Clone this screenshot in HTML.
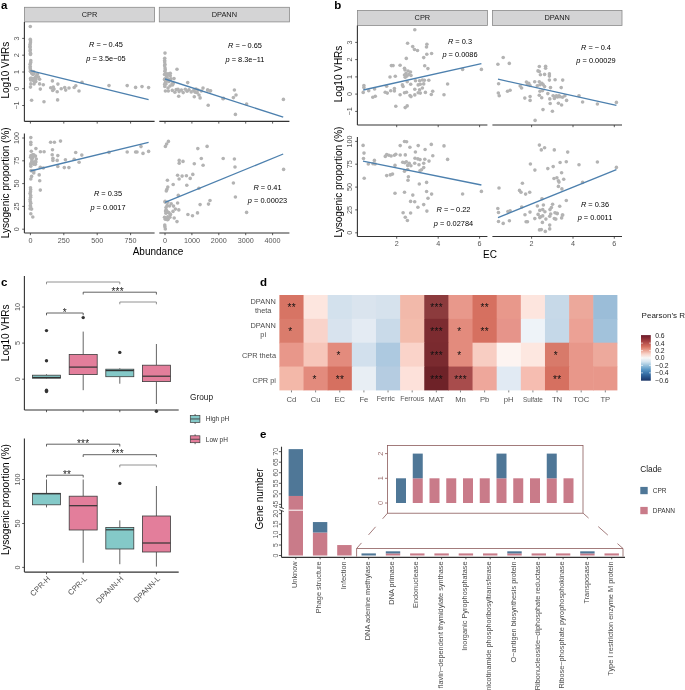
<!DOCTYPE html>
<html><head><meta charset="utf-8"><style>
html,body{margin:0;padding:0;background:#fff;overflow:hidden;}
svg{display:block;font-family:"Liberation Sans", sans-serif;will-change:transform;}
</style></head><body>
<svg width="685" height="690" viewBox="0 0 685 690">
<rect width="685" height="690" fill="#fff"/>
<text x="1" y="8.9" font-size="11.5" fill="#000" font-weight="bold">a</text>
<rect x="24.4" y="7.3" width="130.2" height="14.6" fill="#d4d4d5" stroke="#8a8a8a" stroke-width="0.8"/>
<text x="89.5" y="16.96" font-size="7.4" fill="#1a1a1a" text-anchor="middle">CPR</text>
<rect x="159.3" y="7.3" width="130.1" height="14.6" fill="#d4d4d5" stroke="#8a8a8a" stroke-width="0.8"/>
<text x="224.35" y="16.96" font-size="7.4" fill="#1a1a1a" text-anchor="middle">DPANN</text>
<line x1="24.4" y1="21.9" x2="24.4" y2="121.4" stroke="#333333" stroke-width="1.1"/>
<line x1="24.4" y1="121.4" x2="154.6" y2="121.4" stroke="#333333" stroke-width="1.1"/>
<line x1="159.3" y1="121.4" x2="289.4" y2="121.4" stroke="#333333" stroke-width="1.1"/>
<line x1="24.4" y1="133.6" x2="24.4" y2="233" stroke="#333333" stroke-width="1.1"/>
<line x1="24.4" y1="233" x2="154.6" y2="233" stroke="#333333" stroke-width="1.1"/>
<line x1="159.3" y1="233" x2="289.4" y2="233" stroke="#333333" stroke-width="1.1"/>
<line x1="22.2" y1="38.4" x2="24.4" y2="38.4" stroke="#333333" stroke-width="0.8"/>
<text x="16.7" y="38.4" font-size="7.2" fill="#555555" text-anchor="middle" transform="rotate(-90 16.7 38.4)" dominant-baseline="central">3</text>
<line x1="22.2" y1="55.2" x2="24.4" y2="55.2" stroke="#333333" stroke-width="0.8"/>
<text x="16.7" y="55.2" font-size="7.2" fill="#555555" text-anchor="middle" transform="rotate(-90 16.7 55.2)" dominant-baseline="central">2</text>
<line x1="22.2" y1="72" x2="24.4" y2="72" stroke="#333333" stroke-width="0.8"/>
<text x="16.7" y="72" font-size="7.2" fill="#555555" text-anchor="middle" transform="rotate(-90 16.7 72)" dominant-baseline="central">1</text>
<line x1="22.2" y1="88.7" x2="24.4" y2="88.7" stroke="#333333" stroke-width="0.8"/>
<text x="16.7" y="88.7" font-size="7.2" fill="#555555" text-anchor="middle" transform="rotate(-90 16.7 88.7)" dominant-baseline="central">0</text>
<line x1="22.2" y1="105.5" x2="24.4" y2="105.5" stroke="#333333" stroke-width="0.8"/>
<text x="16.7" y="105.5" font-size="7.2" fill="#555555" text-anchor="middle" transform="rotate(-90 16.7 105.5)" dominant-baseline="central">−1</text>
<line x1="22.2" y1="138" x2="24.4" y2="138" stroke="#333333" stroke-width="0.8"/>
<text x="16.7" y="138" font-size="7.2" fill="#555555" text-anchor="middle" transform="rotate(-90 16.7 138)" dominant-baseline="central">100</text>
<line x1="22.2" y1="160.8" x2="24.4" y2="160.8" stroke="#333333" stroke-width="0.8"/>
<text x="16.7" y="160.8" font-size="7.2" fill="#555555" text-anchor="middle" transform="rotate(-90 16.7 160.8)" dominant-baseline="central">75</text>
<line x1="22.2" y1="183.6" x2="24.4" y2="183.6" stroke="#333333" stroke-width="0.8"/>
<text x="16.7" y="183.6" font-size="7.2" fill="#555555" text-anchor="middle" transform="rotate(-90 16.7 183.6)" dominant-baseline="central">50</text>
<line x1="22.2" y1="206.4" x2="24.4" y2="206.4" stroke="#333333" stroke-width="0.8"/>
<text x="16.7" y="206.4" font-size="7.2" fill="#555555" text-anchor="middle" transform="rotate(-90 16.7 206.4)" dominant-baseline="central">25</text>
<line x1="22.2" y1="229.2" x2="24.4" y2="229.2" stroke="#333333" stroke-width="0.8"/>
<text x="16.7" y="229.2" font-size="7.2" fill="#555555" text-anchor="middle" transform="rotate(-90 16.7 229.2)" dominant-baseline="central">0</text>
<line x1="30.4" y1="121.4" x2="30.4" y2="123.6" stroke="#333333" stroke-width="0.8"/>
<line x1="63.8" y1="121.4" x2="63.8" y2="123.6" stroke="#333333" stroke-width="0.8"/>
<line x1="97.2" y1="121.4" x2="97.2" y2="123.6" stroke="#333333" stroke-width="0.8"/>
<line x1="130.6" y1="121.4" x2="130.6" y2="123.6" stroke="#333333" stroke-width="0.8"/>
<line x1="165" y1="121.4" x2="165" y2="123.6" stroke="#333333" stroke-width="0.8"/>
<line x1="191.9" y1="121.4" x2="191.9" y2="123.6" stroke="#333333" stroke-width="0.8"/>
<line x1="218.8" y1="121.4" x2="218.8" y2="123.6" stroke="#333333" stroke-width="0.8"/>
<line x1="245.7" y1="121.4" x2="245.7" y2="123.6" stroke="#333333" stroke-width="0.8"/>
<line x1="272.6" y1="121.4" x2="272.6" y2="123.6" stroke="#333333" stroke-width="0.8"/>
<line x1="30.4" y1="233" x2="30.4" y2="235.2" stroke="#333333" stroke-width="0.8"/>
<text x="30.4" y="242.79" font-size="7.2" fill="#555555" text-anchor="middle">0</text>
<line x1="63.8" y1="233" x2="63.8" y2="235.2" stroke="#333333" stroke-width="0.8"/>
<text x="63.8" y="242.79" font-size="7.2" fill="#555555" text-anchor="middle">250</text>
<line x1="97.2" y1="233" x2="97.2" y2="235.2" stroke="#333333" stroke-width="0.8"/>
<text x="97.2" y="242.79" font-size="7.2" fill="#555555" text-anchor="middle">500</text>
<line x1="130.6" y1="233" x2="130.6" y2="235.2" stroke="#333333" stroke-width="0.8"/>
<text x="130.6" y="242.79" font-size="7.2" fill="#555555" text-anchor="middle">750</text>
<line x1="165" y1="233" x2="165" y2="235.2" stroke="#333333" stroke-width="0.8"/>
<text x="165" y="242.79" font-size="7.2" fill="#555555" text-anchor="middle">0</text>
<line x1="191.9" y1="233" x2="191.9" y2="235.2" stroke="#333333" stroke-width="0.8"/>
<text x="191.9" y="242.79" font-size="7.2" fill="#555555" text-anchor="middle">1000</text>
<line x1="218.8" y1="233" x2="218.8" y2="235.2" stroke="#333333" stroke-width="0.8"/>
<text x="218.8" y="242.79" font-size="7.2" fill="#555555" text-anchor="middle">2000</text>
<line x1="245.7" y1="233" x2="245.7" y2="235.2" stroke="#333333" stroke-width="0.8"/>
<text x="245.7" y="242.79" font-size="7.2" fill="#555555" text-anchor="middle">3000</text>
<line x1="272.6" y1="233" x2="272.6" y2="235.2" stroke="#333333" stroke-width="0.8"/>
<text x="272.6" y="242.79" font-size="7.2" fill="#555555" text-anchor="middle">4000</text>
<text x="9" y="70.2" font-size="10" fill="#000" text-anchor="middle" transform="rotate(-90 9 70.2)">Log10 VHRs</text>
<text x="9" y="182.8" font-size="10" fill="#000" text-anchor="middle" transform="rotate(-90 9 182.8)">Lysogenic proportion (%)</text>
<text x="158" y="254.8" font-size="10" fill="#000" text-anchor="middle">Abundance</text>
<circle cx="30.3" cy="26.5" r="1.8" fill="#b3b3b3"/>
<circle cx="30.26" cy="39.32" r="1.8" fill="#b3b3b3"/>
<circle cx="30.52" cy="40.91" r="1.8" fill="#b3b3b3"/>
<circle cx="30.43" cy="42.8" r="1.8" fill="#b3b3b3"/>
<circle cx="30.05" cy="44.57" r="1.8" fill="#b3b3b3"/>
<circle cx="30.03" cy="46.17" r="1.8" fill="#b3b3b3"/>
<circle cx="30.06" cy="47.55" r="1.8" fill="#b3b3b3"/>
<circle cx="30.34" cy="49.79" r="1.8" fill="#b3b3b3"/>
<circle cx="30.1" cy="50.97" r="1.8" fill="#b3b3b3"/>
<circle cx="30.5" cy="53.2" r="1.8" fill="#b3b3b3"/>
<circle cx="30.46" cy="54.42" r="1.8" fill="#b3b3b3"/>
<circle cx="30.78" cy="60.64" r="1.8" fill="#b3b3b3"/>
<circle cx="30.69" cy="62.58" r="1.8" fill="#b3b3b3"/>
<circle cx="30.12" cy="64.19" r="1.8" fill="#b3b3b3"/>
<circle cx="30.25" cy="66.5" r="1.8" fill="#b3b3b3"/>
<circle cx="30.14" cy="68.07" r="1.8" fill="#b3b3b3"/>
<circle cx="30.51" cy="69.65" r="1.8" fill="#b3b3b3"/>
<circle cx="30.44" cy="71.15" r="1.8" fill="#b3b3b3"/>
<circle cx="30.77" cy="71.43" r="1.8" fill="#b3b3b3"/>
<circle cx="33.56" cy="72.42" r="1.8" fill="#b3b3b3"/>
<circle cx="31.91" cy="73.14" r="1.8" fill="#b3b3b3"/>
<circle cx="32.54" cy="71.85" r="1.8" fill="#b3b3b3"/>
<circle cx="34.07" cy="73.65" r="1.8" fill="#b3b3b3"/>
<circle cx="31.6" cy="73.08" r="1.8" fill="#b3b3b3"/>
<circle cx="32.86" cy="74.44" r="1.8" fill="#b3b3b3"/>
<circle cx="33.78" cy="71.8" r="1.8" fill="#b3b3b3"/>
<circle cx="36.68" cy="75.83" r="1.8" fill="#b3b3b3"/>
<circle cx="33.13" cy="80.3" r="1.8" fill="#b3b3b3"/>
<circle cx="31.46" cy="78.42" r="1.8" fill="#b3b3b3"/>
<circle cx="30.75" cy="79.68" r="1.8" fill="#b3b3b3"/>
<circle cx="35.32" cy="79.01" r="1.8" fill="#b3b3b3"/>
<circle cx="36.02" cy="77.2" r="1.8" fill="#b3b3b3"/>
<circle cx="34.88" cy="79.16" r="1.8" fill="#b3b3b3"/>
<circle cx="34.15" cy="78.19" r="1.8" fill="#b3b3b3"/>
<circle cx="35.79" cy="81.61" r="1.8" fill="#b3b3b3"/>
<circle cx="33.49" cy="79.65" r="1.8" fill="#b3b3b3"/>
<circle cx="30.88" cy="79.91" r="1.8" fill="#b3b3b3"/>
<circle cx="34.58" cy="81.95" r="1.8" fill="#b3b3b3"/>
<circle cx="35.68" cy="76.99" r="1.8" fill="#b3b3b3"/>
<circle cx="32.93" cy="79.68" r="1.8" fill="#b3b3b3"/>
<circle cx="30.64" cy="78.23" r="1.8" fill="#b3b3b3"/>
<circle cx="39.6" cy="79.3" r="1.8" fill="#b3b3b3"/>
<circle cx="39.6" cy="83.9" r="1.8" fill="#b3b3b3"/>
<circle cx="43.3" cy="84.8" r="1.8" fill="#b3b3b3"/>
<circle cx="40.3" cy="89.1" r="1.8" fill="#b3b3b3"/>
<circle cx="30.8" cy="83.9" r="1.8" fill="#b3b3b3"/>
<circle cx="30.5" cy="87.1" r="1.8" fill="#b3b3b3"/>
<circle cx="52.4" cy="80.9" r="1.8" fill="#b3b3b3"/>
<circle cx="57.9" cy="84.1" r="1.8" fill="#b3b3b3"/>
<circle cx="50.7" cy="87.8" r="1.8" fill="#b3b3b3"/>
<circle cx="53.3" cy="87.1" r="1.8" fill="#b3b3b3"/>
<circle cx="52.7" cy="90.4" r="1.8" fill="#b3b3b3"/>
<circle cx="54" cy="89.1" r="1.8" fill="#b3b3b3"/>
<circle cx="57.2" cy="91.7" r="1.8" fill="#b3b3b3"/>
<circle cx="61.2" cy="88.8" r="1.8" fill="#b3b3b3"/>
<circle cx="64.7" cy="87.5" r="1.8" fill="#b3b3b3"/>
<circle cx="65.7" cy="90.1" r="1.8" fill="#b3b3b3"/>
<circle cx="69" cy="88" r="1.8" fill="#b3b3b3"/>
<circle cx="74.2" cy="87.5" r="1.8" fill="#b3b3b3"/>
<circle cx="75.8" cy="85.8" r="1.8" fill="#b3b3b3"/>
<circle cx="79" cy="91" r="1.8" fill="#b3b3b3"/>
<circle cx="82" cy="82.2" r="1.8" fill="#b3b3b3"/>
<circle cx="31.6" cy="100.2" r="1.8" fill="#b3b3b3"/>
<circle cx="44" cy="101.7" r="1.8" fill="#b3b3b3"/>
<circle cx="57.6" cy="99.9" r="1.8" fill="#b3b3b3"/>
<circle cx="109" cy="85.6" r="1.8" fill="#b3b3b3"/>
<circle cx="127.2" cy="85.6" r="1.8" fill="#b3b3b3"/>
<circle cx="135.6" cy="87.4" r="1.8" fill="#b3b3b3"/>
<circle cx="142" cy="86.6" r="1.8" fill="#b3b3b3"/>
<circle cx="148.6" cy="87.6" r="1.8" fill="#b3b3b3"/>
<circle cx="37.5" cy="74" r="1.8" fill="#b3b3b3"/>
<circle cx="38.5" cy="77" r="1.8" fill="#b3b3b3"/>
<circle cx="34" cy="84" r="1.8" fill="#b3b3b3"/>
<circle cx="36" cy="79" r="1.8" fill="#b3b3b3"/>
<circle cx="165" cy="53.1" r="1.8" fill="#b3b3b3"/>
<circle cx="164.73" cy="58.19" r="1.8" fill="#b3b3b3"/>
<circle cx="164.65" cy="60.54" r="1.8" fill="#b3b3b3"/>
<circle cx="164.7" cy="61.96" r="1.8" fill="#b3b3b3"/>
<circle cx="164.91" cy="64.28" r="1.8" fill="#b3b3b3"/>
<circle cx="164.66" cy="65.77" r="1.8" fill="#b3b3b3"/>
<circle cx="165.04" cy="67.95" r="1.8" fill="#b3b3b3"/>
<circle cx="165.26" cy="69.76" r="1.8" fill="#b3b3b3"/>
<circle cx="164.82" cy="71.23" r="1.8" fill="#b3b3b3"/>
<circle cx="166.65" cy="76.49" r="1.8" fill="#b3b3b3"/>
<circle cx="170.25" cy="73.26" r="1.8" fill="#b3b3b3"/>
<circle cx="165.56" cy="73.62" r="1.8" fill="#b3b3b3"/>
<circle cx="165.9" cy="74.73" r="1.8" fill="#b3b3b3"/>
<circle cx="168.03" cy="73.76" r="1.8" fill="#b3b3b3"/>
<circle cx="164.52" cy="74.44" r="1.8" fill="#b3b3b3"/>
<circle cx="166.72" cy="75.09" r="1.8" fill="#b3b3b3"/>
<circle cx="170.22" cy="75.64" r="1.8" fill="#b3b3b3"/>
<circle cx="167.59" cy="75.32" r="1.8" fill="#b3b3b3"/>
<circle cx="170.92" cy="78.76" r="1.8" fill="#b3b3b3"/>
<circle cx="173.05" cy="83.55" r="1.8" fill="#b3b3b3"/>
<circle cx="172.81" cy="83.67" r="1.8" fill="#b3b3b3"/>
<circle cx="168.23" cy="81.03" r="1.8" fill="#b3b3b3"/>
<circle cx="165.48" cy="82.59" r="1.8" fill="#b3b3b3"/>
<circle cx="165.09" cy="78.84" r="1.8" fill="#b3b3b3"/>
<circle cx="166.48" cy="79.47" r="1.8" fill="#b3b3b3"/>
<circle cx="167.73" cy="78.75" r="1.8" fill="#b3b3b3"/>
<circle cx="164.5" cy="79.4" r="1.8" fill="#b3b3b3"/>
<circle cx="165.46" cy="80.8" r="1.8" fill="#b3b3b3"/>
<circle cx="164.74" cy="84.17" r="1.8" fill="#b3b3b3"/>
<circle cx="170.33" cy="79.38" r="1.8" fill="#b3b3b3"/>
<circle cx="166.9" cy="80.69" r="1.8" fill="#b3b3b3"/>
<circle cx="167.96" cy="79.21" r="1.8" fill="#b3b3b3"/>
<circle cx="172.56" cy="84.95" r="1.8" fill="#b3b3b3"/>
<circle cx="168.93" cy="81.59" r="1.8" fill="#b3b3b3"/>
<circle cx="177" cy="69.3" r="1.8" fill="#b3b3b3"/>
<circle cx="174" cy="78.6" r="1.8" fill="#b3b3b3"/>
<circle cx="164.8" cy="86.4" r="1.8" fill="#b3b3b3"/>
<circle cx="165.4" cy="91" r="1.8" fill="#b3b3b3"/>
<circle cx="168.3" cy="91" r="1.8" fill="#b3b3b3"/>
<circle cx="187.7" cy="82.6" r="1.8" fill="#b3b3b3"/>
<circle cx="172.3" cy="90.4" r="1.8" fill="#b3b3b3"/>
<circle cx="174.9" cy="92.2" r="1.8" fill="#b3b3b3"/>
<circle cx="176.2" cy="89.6" r="1.8" fill="#b3b3b3"/>
<circle cx="179.1" cy="91.6" r="1.8" fill="#b3b3b3"/>
<circle cx="181.4" cy="90.1" r="1.8" fill="#b3b3b3"/>
<circle cx="183.2" cy="92.6" r="1.8" fill="#b3b3b3"/>
<circle cx="185.3" cy="89.3" r="1.8" fill="#b3b3b3"/>
<circle cx="187.1" cy="91.2" r="1.8" fill="#b3b3b3"/>
<circle cx="189" cy="89.8" r="1.8" fill="#b3b3b3"/>
<circle cx="191.2" cy="91.9" r="1.8" fill="#b3b3b3"/>
<circle cx="193.8" cy="90.4" r="1.8" fill="#b3b3b3"/>
<circle cx="195.2" cy="92.2" r="1.8" fill="#b3b3b3"/>
<circle cx="178" cy="89.2" r="1.8" fill="#b3b3b3"/>
<circle cx="178.7" cy="96.2" r="1.8" fill="#b3b3b3"/>
<circle cx="194.3" cy="96.8" r="1.8" fill="#b3b3b3"/>
<circle cx="197.2" cy="92.7" r="1.8" fill="#b3b3b3"/>
<circle cx="199" cy="95" r="1.8" fill="#b3b3b3"/>
<circle cx="200.1" cy="97.9" r="1.8" fill="#b3b3b3"/>
<circle cx="203" cy="88.1" r="1.8" fill="#b3b3b3"/>
<circle cx="201.3" cy="91" r="1.8" fill="#b3b3b3"/>
<circle cx="207.7" cy="90" r="1.8" fill="#b3b3b3"/>
<circle cx="210.6" cy="90.8" r="1.8" fill="#b3b3b3"/>
<circle cx="208.2" cy="105.2" r="1.8" fill="#b3b3b3"/>
<circle cx="223" cy="98.7" r="1.8" fill="#b3b3b3"/>
<circle cx="207.6" cy="90" r="1.8" fill="#b3b3b3"/>
<circle cx="210" cy="91" r="1.8" fill="#b3b3b3"/>
<circle cx="223.4" cy="98.4" r="1.8" fill="#b3b3b3"/>
<circle cx="234.4" cy="90" r="1.8" fill="#b3b3b3"/>
<circle cx="236" cy="95" r="1.8" fill="#b3b3b3"/>
<circle cx="233.4" cy="97.6" r="1.8" fill="#b3b3b3"/>
<circle cx="246.6" cy="104" r="1.8" fill="#b3b3b3"/>
<circle cx="235.4" cy="114.4" r="1.8" fill="#b3b3b3"/>
<circle cx="283.4" cy="99.4" r="1.8" fill="#b3b3b3"/>
<circle cx="166" cy="84" r="1.8" fill="#b3b3b3"/>
<circle cx="168" cy="88" r="1.8" fill="#b3b3b3"/>
<circle cx="170" cy="86" r="1.8" fill="#b3b3b3"/>
<circle cx="172" cy="84" r="1.8" fill="#b3b3b3"/>
<circle cx="196" cy="89" r="1.8" fill="#b3b3b3"/>
<circle cx="198" cy="90" r="1.8" fill="#b3b3b3"/>
<circle cx="30.8" cy="137.6" r="1.8" fill="#b3b3b3"/>
<circle cx="30.8" cy="142.2" r="1.8" fill="#b3b3b3"/>
<circle cx="30.8" cy="144.5" r="1.8" fill="#b3b3b3"/>
<circle cx="50.6" cy="142.2" r="1.8" fill="#b3b3b3"/>
<circle cx="54.4" cy="142.2" r="1.8" fill="#b3b3b3"/>
<circle cx="60.5" cy="141.1" r="1.8" fill="#b3b3b3"/>
<circle cx="35.9" cy="148.6" r="1.8" fill="#b3b3b3"/>
<circle cx="31.3" cy="151.3" r="1.8" fill="#b3b3b3"/>
<circle cx="40.4" cy="151.8" r="1.8" fill="#b3b3b3"/>
<circle cx="44.1" cy="151.8" r="1.8" fill="#b3b3b3"/>
<circle cx="52.5" cy="149.8" r="1.8" fill="#b3b3b3"/>
<circle cx="52.2" cy="154.7" r="1.8" fill="#b3b3b3"/>
<circle cx="57.8" cy="155.6" r="1.8" fill="#b3b3b3"/>
<circle cx="52.9" cy="158.2" r="1.8" fill="#b3b3b3"/>
<circle cx="52.9" cy="160.4" r="1.8" fill="#b3b3b3"/>
<circle cx="57.2" cy="160.4" r="1.8" fill="#b3b3b3"/>
<circle cx="65.4" cy="159.7" r="1.8" fill="#b3b3b3"/>
<circle cx="75.7" cy="152.5" r="1.8" fill="#b3b3b3"/>
<circle cx="81.8" cy="155.1" r="1.8" fill="#b3b3b3"/>
<circle cx="74.2" cy="159.2" r="1.8" fill="#b3b3b3"/>
<circle cx="79.1" cy="162.3" r="1.8" fill="#b3b3b3"/>
<circle cx="30.8" cy="166.2" r="1.8" fill="#b3b3b3"/>
<circle cx="40.3" cy="167.3" r="1.8" fill="#b3b3b3"/>
<circle cx="43.3" cy="168" r="1.8" fill="#b3b3b3"/>
<circle cx="57.8" cy="166.5" r="1.8" fill="#b3b3b3"/>
<circle cx="64.3" cy="167.6" r="1.8" fill="#b3b3b3"/>
<circle cx="68.9" cy="167.6" r="1.8" fill="#b3b3b3"/>
<circle cx="39.2" cy="174.9" r="1.8" fill="#b3b3b3"/>
<circle cx="31.6" cy="176.4" r="1.8" fill="#b3b3b3"/>
<circle cx="30.8" cy="179" r="1.8" fill="#b3b3b3"/>
<circle cx="39.7" cy="180.7" r="1.8" fill="#b3b3b3"/>
<circle cx="40.3" cy="190.1" r="1.8" fill="#b3b3b3"/>
<circle cx="31.6" cy="209.1" r="1.8" fill="#b3b3b3"/>
<circle cx="30.8" cy="213.7" r="1.8" fill="#b3b3b3"/>
<circle cx="32.8" cy="217" r="1.8" fill="#b3b3b3"/>
<circle cx="109" cy="152.4" r="1.8" fill="#b3b3b3"/>
<circle cx="127.2" cy="152" r="1.8" fill="#b3b3b3"/>
<circle cx="135.6" cy="152" r="1.8" fill="#b3b3b3"/>
<circle cx="141" cy="146.6" r="1.8" fill="#b3b3b3"/>
<circle cx="137" cy="152" r="1.8" fill="#b3b3b3"/>
<circle cx="143" cy="153.4" r="1.8" fill="#b3b3b3"/>
<circle cx="148.6" cy="151.4" r="1.8" fill="#b3b3b3"/>
<circle cx="31.02" cy="155.52" r="1.8" fill="#b3b3b3"/>
<circle cx="32.56" cy="157.15" r="1.8" fill="#b3b3b3"/>
<circle cx="35.47" cy="156.11" r="1.8" fill="#b3b3b3"/>
<circle cx="30.64" cy="164.01" r="1.8" fill="#b3b3b3"/>
<circle cx="33.67" cy="155.97" r="1.8" fill="#b3b3b3"/>
<circle cx="33.76" cy="154.77" r="1.8" fill="#b3b3b3"/>
<circle cx="33.67" cy="164.29" r="1.8" fill="#b3b3b3"/>
<circle cx="35.68" cy="161.46" r="1.8" fill="#b3b3b3"/>
<circle cx="32.07" cy="158.17" r="1.8" fill="#b3b3b3"/>
<circle cx="31.5" cy="162.22" r="1.8" fill="#b3b3b3"/>
<circle cx="33.7" cy="162.29" r="1.8" fill="#b3b3b3"/>
<circle cx="32.48" cy="156.73" r="1.8" fill="#b3b3b3"/>
<circle cx="35.37" cy="164.35" r="1.8" fill="#b3b3b3"/>
<circle cx="35.62" cy="162.56" r="1.8" fill="#b3b3b3"/>
<circle cx="35.41" cy="161.9" r="1.8" fill="#b3b3b3"/>
<circle cx="31.86" cy="159.68" r="1.8" fill="#b3b3b3"/>
<circle cx="32.63" cy="154.79" r="1.8" fill="#b3b3b3"/>
<circle cx="30.67" cy="157.29" r="1.8" fill="#b3b3b3"/>
<circle cx="32.06" cy="161.43" r="1.8" fill="#b3b3b3"/>
<circle cx="36.24" cy="158.97" r="1.8" fill="#b3b3b3"/>
<circle cx="33.78" cy="172.96" r="1.8" fill="#b3b3b3"/>
<circle cx="33.84" cy="171.09" r="1.8" fill="#b3b3b3"/>
<circle cx="31.27" cy="170.68" r="1.8" fill="#b3b3b3"/>
<circle cx="31.19" cy="170.61" r="1.8" fill="#b3b3b3"/>
<circle cx="30.5" cy="187.82" r="1.8" fill="#b3b3b3"/>
<circle cx="30.67" cy="189.45" r="1.8" fill="#b3b3b3"/>
<circle cx="30.52" cy="191.67" r="1.8" fill="#b3b3b3"/>
<circle cx="30.07" cy="193.52" r="1.8" fill="#b3b3b3"/>
<circle cx="30.73" cy="195.58" r="1.8" fill="#b3b3b3"/>
<circle cx="30.6" cy="197.3" r="1.8" fill="#b3b3b3"/>
<circle cx="30.14" cy="199.51" r="1.8" fill="#b3b3b3"/>
<circle cx="30.27" cy="201.49" r="1.8" fill="#b3b3b3"/>
<circle cx="30.78" cy="203.13" r="1.8" fill="#b3b3b3"/>
<circle cx="30.32" cy="205.53" r="1.8" fill="#b3b3b3"/>
<circle cx="30.58" cy="206.87" r="1.8" fill="#b3b3b3"/>
<circle cx="30.1" cy="208.82" r="1.8" fill="#b3b3b3"/>
<circle cx="168.4" cy="141.4" r="1.8" fill="#b3b3b3"/>
<circle cx="166.6" cy="144" r="1.8" fill="#b3b3b3"/>
<circle cx="165.4" cy="146.4" r="1.8" fill="#b3b3b3"/>
<circle cx="197.8" cy="148.6" r="1.8" fill="#b3b3b3"/>
<circle cx="207.1" cy="146.4" r="1.8" fill="#b3b3b3"/>
<circle cx="201.3" cy="158.5" r="1.8" fill="#b3b3b3"/>
<circle cx="223.2" cy="158.5" r="1.8" fill="#b3b3b3"/>
<circle cx="179.2" cy="160.4" r="1.8" fill="#b3b3b3"/>
<circle cx="179.2" cy="163.2" r="1.8" fill="#b3b3b3"/>
<circle cx="183" cy="161.4" r="1.8" fill="#b3b3b3"/>
<circle cx="194.3" cy="163.8" r="1.8" fill="#b3b3b3"/>
<circle cx="203.1" cy="165.3" r="1.8" fill="#b3b3b3"/>
<circle cx="192.8" cy="174.4" r="1.8" fill="#b3b3b3"/>
<circle cx="177.6" cy="175.2" r="1.8" fill="#b3b3b3"/>
<circle cx="182.1" cy="176.1" r="1.8" fill="#b3b3b3"/>
<circle cx="186.4" cy="175.7" r="1.8" fill="#b3b3b3"/>
<circle cx="179.1" cy="179" r="1.8" fill="#b3b3b3"/>
<circle cx="190.2" cy="178.4" r="1.8" fill="#b3b3b3"/>
<circle cx="167.4" cy="180.2" r="1.8" fill="#b3b3b3"/>
<circle cx="173.2" cy="184.5" r="1.8" fill="#b3b3b3"/>
<circle cx="186.8" cy="185.2" r="1.8" fill="#b3b3b3"/>
<circle cx="167.8" cy="187.1" r="1.8" fill="#b3b3b3"/>
<circle cx="166.9" cy="189.4" r="1.8" fill="#b3b3b3"/>
<circle cx="166.3" cy="190.9" r="1.8" fill="#b3b3b3"/>
<circle cx="198.9" cy="188.3" r="1.8" fill="#b3b3b3"/>
<circle cx="178.3" cy="195.4" r="1.8" fill="#b3b3b3"/>
<circle cx="165.1" cy="201.2" r="1.8" fill="#b3b3b3"/>
<circle cx="171.2" cy="203.8" r="1.8" fill="#b3b3b3"/>
<circle cx="173.5" cy="206.1" r="1.8" fill="#b3b3b3"/>
<circle cx="177.6" cy="203" r="1.8" fill="#b3b3b3"/>
<circle cx="175.4" cy="209.1" r="1.8" fill="#b3b3b3"/>
<circle cx="178.8" cy="209.9" r="1.8" fill="#b3b3b3"/>
<circle cx="173" cy="211.4" r="1.8" fill="#b3b3b3"/>
<circle cx="210" cy="200.5" r="1.8" fill="#b3b3b3"/>
<circle cx="208.5" cy="204.1" r="1.8" fill="#b3b3b3"/>
<circle cx="200.1" cy="204.6" r="1.8" fill="#b3b3b3"/>
<circle cx="187.9" cy="214.5" r="1.8" fill="#b3b3b3"/>
<circle cx="192.5" cy="215.7" r="1.8" fill="#b3b3b3"/>
<circle cx="197.5" cy="212.9" r="1.8" fill="#b3b3b3"/>
<circle cx="174.2" cy="218" r="1.8" fill="#b3b3b3"/>
<circle cx="177" cy="221.6" r="1.8" fill="#b3b3b3"/>
<circle cx="234.4" cy="159" r="1.8" fill="#b3b3b3"/>
<circle cx="235" cy="167" r="1.8" fill="#b3b3b3"/>
<circle cx="233.4" cy="183" r="1.8" fill="#b3b3b3"/>
<circle cx="235.4" cy="197" r="1.8" fill="#b3b3b3"/>
<circle cx="246.6" cy="212.4" r="1.8" fill="#b3b3b3"/>
<circle cx="283.6" cy="169.4" r="1.8" fill="#b3b3b3"/>
<circle cx="169.93" cy="217.32" r="1.8" fill="#b3b3b3"/>
<circle cx="165.38" cy="217.7" r="1.8" fill="#b3b3b3"/>
<circle cx="170.38" cy="214.49" r="1.8" fill="#b3b3b3"/>
<circle cx="166.6" cy="212.42" r="1.8" fill="#b3b3b3"/>
<circle cx="165.29" cy="202.27" r="1.8" fill="#b3b3b3"/>
<circle cx="170.33" cy="214.34" r="1.8" fill="#b3b3b3"/>
<circle cx="167.66" cy="219.74" r="1.8" fill="#b3b3b3"/>
<circle cx="167.1" cy="218.56" r="1.8" fill="#b3b3b3"/>
<circle cx="169.46" cy="206.01" r="1.8" fill="#b3b3b3"/>
<circle cx="166.01" cy="207.57" r="1.8" fill="#b3b3b3"/>
<circle cx="165.94" cy="213.14" r="1.8" fill="#b3b3b3"/>
<circle cx="166.06" cy="209.96" r="1.8" fill="#b3b3b3"/>
<circle cx="165.29" cy="219.29" r="1.8" fill="#b3b3b3"/>
<circle cx="166.62" cy="210.71" r="1.8" fill="#b3b3b3"/>
<circle cx="168" cy="219.18" r="1.8" fill="#b3b3b3"/>
<circle cx="167.02" cy="219.44" r="1.8" fill="#b3b3b3"/>
<circle cx="167.51" cy="212.1" r="1.8" fill="#b3b3b3"/>
<circle cx="167.64" cy="202.36" r="1.8" fill="#b3b3b3"/>
<circle cx="167.14" cy="205.48" r="1.8" fill="#b3b3b3"/>
<circle cx="164.52" cy="217.18" r="1.8" fill="#b3b3b3"/>
<circle cx="165.53" cy="211" r="1.8" fill="#b3b3b3"/>
<circle cx="168.85" cy="212.57" r="1.8" fill="#b3b3b3"/>
<circle cx="166.46" cy="211.85" r="1.8" fill="#b3b3b3"/>
<circle cx="167.83" cy="216.9" r="1.8" fill="#b3b3b3"/>
<circle cx="164.78" cy="225.05" r="1.8" fill="#b3b3b3"/>
<circle cx="164.9" cy="226.82" r="1.8" fill="#b3b3b3"/>
<circle cx="165.32" cy="229.01" r="1.8" fill="#b3b3b3"/>
<line x1="30.4" y1="70.7" x2="148.6" y2="99.6" stroke="#4d80ae" stroke-width="1.35"/>
<line x1="165" y1="79" x2="283.2" y2="117.2" stroke="#4d80ae" stroke-width="1.35"/>
<line x1="30.4" y1="171" x2="148.6" y2="142.4" stroke="#4d80ae" stroke-width="1.35"/>
<line x1="165" y1="202.4" x2="283.2" y2="154" stroke="#4d80ae" stroke-width="1.35"/>
<text x="106" y="47.16" font-size="7.4" fill="#000" text-anchor="middle"><tspan font-style="italic">R</tspan> = − 0.45</text>
<text x="106" y="60.56" font-size="7.4" fill="#000" text-anchor="middle"><tspan font-style="italic">p</tspan> = 3.5e−05</text>
<text x="245" y="48.16" font-size="7.4" fill="#000" text-anchor="middle"><tspan font-style="italic">R</tspan> = − 0.65</text>
<text x="245" y="61.56" font-size="7.4" fill="#000" text-anchor="middle"><tspan font-style="italic">p</tspan> = 8.3e−11</text>
<text x="108" y="196.16" font-size="7.4" fill="#000" text-anchor="middle"><tspan font-style="italic">R</tspan> = 0.35</text>
<text x="108" y="209.56" font-size="7.4" fill="#000" text-anchor="middle"><tspan font-style="italic">p</tspan> = 0.0017</text>
<text x="267.5" y="189.66" font-size="7.4" fill="#000" text-anchor="middle"><tspan font-style="italic">R</tspan> = 0.41</text>
<text x="267.5" y="202.96" font-size="7.4" fill="#000" text-anchor="middle"><tspan font-style="italic">p</tspan> = 0.00023</text>
<text x="334.2" y="8.9" font-size="11.5" fill="#000" font-weight="bold">b</text>
<rect x="357.4" y="10.4" width="130" height="15" fill="#d4d4d5" stroke="#8a8a8a" stroke-width="0.8"/>
<text x="422.4" y="20.26" font-size="7.4" fill="#1a1a1a" text-anchor="middle">CPR</text>
<rect x="492.4" y="10.4" width="129.6" height="15" fill="#d4d4d5" stroke="#8a8a8a" stroke-width="0.8"/>
<text x="557.2" y="20.26" font-size="7.4" fill="#1a1a1a" text-anchor="middle">DPANN</text>
<line x1="357.4" y1="25.4" x2="357.4" y2="125" stroke="#333333" stroke-width="1.1"/>
<line x1="357.4" y1="125" x2="487.4" y2="125" stroke="#333333" stroke-width="1.1"/>
<line x1="492.4" y1="125" x2="622" y2="125" stroke="#333333" stroke-width="1.1"/>
<line x1="357.4" y1="137" x2="357.4" y2="236.5" stroke="#333333" stroke-width="1.1"/>
<line x1="357.4" y1="236.5" x2="487.4" y2="236.5" stroke="#333333" stroke-width="1.1"/>
<line x1="492.4" y1="236.5" x2="622" y2="236.5" stroke="#333333" stroke-width="1.1"/>
<line x1="355.2" y1="42.4" x2="357.4" y2="42.4" stroke="#333333" stroke-width="0.8"/>
<text x="349.4" y="42.4" font-size="7.2" fill="#555555" text-anchor="middle" transform="rotate(-90 349.4 42.4)" dominant-baseline="central">3</text>
<line x1="355.2" y1="59.6" x2="357.4" y2="59.6" stroke="#333333" stroke-width="0.8"/>
<text x="349.4" y="59.6" font-size="7.2" fill="#555555" text-anchor="middle" transform="rotate(-90 349.4 59.6)" dominant-baseline="central">2</text>
<line x1="355.2" y1="76.9" x2="357.4" y2="76.9" stroke="#333333" stroke-width="0.8"/>
<text x="349.4" y="76.9" font-size="7.2" fill="#555555" text-anchor="middle" transform="rotate(-90 349.4 76.9)" dominant-baseline="central">1</text>
<line x1="355.2" y1="94.1" x2="357.4" y2="94.1" stroke="#333333" stroke-width="0.8"/>
<text x="349.4" y="94.1" font-size="7.2" fill="#555555" text-anchor="middle" transform="rotate(-90 349.4 94.1)" dominant-baseline="central">0</text>
<line x1="355.2" y1="111.4" x2="357.4" y2="111.4" stroke="#333333" stroke-width="0.8"/>
<text x="349.4" y="111.4" font-size="7.2" fill="#555555" text-anchor="middle" transform="rotate(-90 349.4 111.4)" dominant-baseline="central">−1</text>
<line x1="355.2" y1="141.4" x2="357.4" y2="141.4" stroke="#333333" stroke-width="0.8"/>
<text x="349.4" y="141.4" font-size="7.2" fill="#555555" text-anchor="middle" transform="rotate(-90 349.4 141.4)" dominant-baseline="central">100</text>
<line x1="355.2" y1="164.2" x2="357.4" y2="164.2" stroke="#333333" stroke-width="0.8"/>
<text x="349.4" y="164.2" font-size="7.2" fill="#555555" text-anchor="middle" transform="rotate(-90 349.4 164.2)" dominant-baseline="central">75</text>
<line x1="355.2" y1="187.1" x2="357.4" y2="187.1" stroke="#333333" stroke-width="0.8"/>
<text x="349.4" y="187.1" font-size="7.2" fill="#555555" text-anchor="middle" transform="rotate(-90 349.4 187.1)" dominant-baseline="central">50</text>
<line x1="355.2" y1="209.9" x2="357.4" y2="209.9" stroke="#333333" stroke-width="0.8"/>
<text x="349.4" y="209.9" font-size="7.2" fill="#555555" text-anchor="middle" transform="rotate(-90 349.4 209.9)" dominant-baseline="central">25</text>
<line x1="355.2" y1="232.8" x2="357.4" y2="232.8" stroke="#333333" stroke-width="0.8"/>
<text x="349.4" y="232.8" font-size="7.2" fill="#555555" text-anchor="middle" transform="rotate(-90 349.4 232.8)" dominant-baseline="central">0</text>
<line x1="396.7" y1="125" x2="396.7" y2="127.2" stroke="#333333" stroke-width="0.8"/>
<line x1="438.2" y1="125" x2="438.2" y2="127.2" stroke="#333333" stroke-width="0.8"/>
<line x1="479.6" y1="125" x2="479.6" y2="127.2" stroke="#333333" stroke-width="0.8"/>
<line x1="531.6" y1="125" x2="531.6" y2="127.2" stroke="#333333" stroke-width="0.8"/>
<line x1="573" y1="125" x2="573" y2="127.2" stroke="#333333" stroke-width="0.8"/>
<line x1="614.3" y1="125" x2="614.3" y2="127.2" stroke="#333333" stroke-width="0.8"/>
<line x1="396.7" y1="236.5" x2="396.7" y2="238.7" stroke="#333333" stroke-width="0.8"/>
<text x="396.7" y="246.29" font-size="7.2" fill="#555555" text-anchor="middle">2</text>
<line x1="438.2" y1="236.5" x2="438.2" y2="238.7" stroke="#333333" stroke-width="0.8"/>
<text x="438.2" y="246.29" font-size="7.2" fill="#555555" text-anchor="middle">4</text>
<line x1="479.6" y1="236.5" x2="479.6" y2="238.7" stroke="#333333" stroke-width="0.8"/>
<text x="479.6" y="246.29" font-size="7.2" fill="#555555" text-anchor="middle">6</text>
<line x1="531.6" y1="236.5" x2="531.6" y2="238.7" stroke="#333333" stroke-width="0.8"/>
<text x="531.6" y="246.29" font-size="7.2" fill="#555555" text-anchor="middle">2</text>
<line x1="573" y1="236.5" x2="573" y2="238.7" stroke="#333333" stroke-width="0.8"/>
<text x="573" y="246.29" font-size="7.2" fill="#555555" text-anchor="middle">4</text>
<line x1="614.3" y1="236.5" x2="614.3" y2="238.7" stroke="#333333" stroke-width="0.8"/>
<text x="614.3" y="246.29" font-size="7.2" fill="#555555" text-anchor="middle">6</text>
<text x="341.8" y="74" font-size="10" fill="#000" text-anchor="middle" transform="rotate(-90 341.8 74)">Log10 VHRs</text>
<text x="341.8" y="182" font-size="10" fill="#000" text-anchor="middle" transform="rotate(-90 341.8 182)">Lysogenic proportion (%)</text>
<text x="490" y="257.7" font-size="10" fill="#000" text-anchor="middle">EC</text>
<circle cx="414.8" cy="29.8" r="1.8" fill="#b3b3b3"/>
<circle cx="407.6" cy="43.3" r="1.8" fill="#b3b3b3"/>
<circle cx="412.7" cy="46.6" r="1.8" fill="#b3b3b3"/>
<circle cx="414.5" cy="49.5" r="1.8" fill="#b3b3b3"/>
<circle cx="417.5" cy="50.5" r="1.8" fill="#b3b3b3"/>
<circle cx="426.9" cy="44.3" r="1.8" fill="#b3b3b3"/>
<circle cx="426.5" cy="47" r="1.8" fill="#b3b3b3"/>
<circle cx="426.8" cy="54.3" r="1.8" fill="#b3b3b3"/>
<circle cx="431.6" cy="53.5" r="1.8" fill="#b3b3b3"/>
<circle cx="423.7" cy="57.6" r="1.8" fill="#b3b3b3"/>
<circle cx="406.3" cy="58.4" r="1.8" fill="#b3b3b3"/>
<circle cx="391.4" cy="65.6" r="1.8" fill="#b3b3b3"/>
<circle cx="393.1" cy="65.6" r="1.8" fill="#b3b3b3"/>
<circle cx="400.1" cy="65.3" r="1.8" fill="#b3b3b3"/>
<circle cx="424.7" cy="65.7" r="1.8" fill="#b3b3b3"/>
<circle cx="427.9" cy="68.6" r="1.8" fill="#b3b3b3"/>
<circle cx="404.5" cy="68.3" r="1.8" fill="#b3b3b3"/>
<circle cx="390" cy="77" r="1.8" fill="#b3b3b3"/>
<circle cx="395.3" cy="76.3" r="1.8" fill="#b3b3b3"/>
<circle cx="405.2" cy="77.3" r="1.8" fill="#b3b3b3"/>
<circle cx="363.9" cy="85.5" r="1.8" fill="#b3b3b3"/>
<circle cx="363.9" cy="87.6" r="1.8" fill="#b3b3b3"/>
<circle cx="386.6" cy="86.2" r="1.8" fill="#b3b3b3"/>
<circle cx="363.2" cy="92.4" r="1.8" fill="#b3b3b3"/>
<circle cx="368.7" cy="90.8" r="1.8" fill="#b3b3b3"/>
<circle cx="374.6" cy="89" r="1.8" fill="#b3b3b3"/>
<circle cx="402.4" cy="84.9" r="1.8" fill="#b3b3b3"/>
<circle cx="403.1" cy="86.5" r="1.8" fill="#b3b3b3"/>
<circle cx="407.2" cy="81.7" r="1.8" fill="#b3b3b3"/>
<circle cx="410.7" cy="84.2" r="1.8" fill="#b3b3b3"/>
<circle cx="415.5" cy="80.7" r="1.8" fill="#b3b3b3"/>
<circle cx="419.6" cy="80.7" r="1.8" fill="#b3b3b3"/>
<circle cx="422.4" cy="80" r="1.8" fill="#b3b3b3"/>
<circle cx="424.4" cy="80.3" r="1.8" fill="#b3b3b3"/>
<circle cx="428.8" cy="80.3" r="1.8" fill="#b3b3b3"/>
<circle cx="418.2" cy="84.9" r="1.8" fill="#b3b3b3"/>
<circle cx="420.3" cy="84.2" r="1.8" fill="#b3b3b3"/>
<circle cx="423.7" cy="83.9" r="1.8" fill="#b3b3b3"/>
<circle cx="422.4" cy="88" r="1.8" fill="#b3b3b3"/>
<circle cx="419.6" cy="89.7" r="1.8" fill="#b3b3b3"/>
<circle cx="414.8" cy="89.3" r="1.8" fill="#b3b3b3"/>
<circle cx="385.2" cy="92.2" r="1.8" fill="#b3b3b3"/>
<circle cx="387.3" cy="93.1" r="1.8" fill="#b3b3b3"/>
<circle cx="390.7" cy="90.8" r="1.8" fill="#b3b3b3"/>
<circle cx="394.4" cy="88.6" r="1.8" fill="#b3b3b3"/>
<circle cx="394.4" cy="91" r="1.8" fill="#b3b3b3"/>
<circle cx="400.1" cy="94.8" r="1.8" fill="#b3b3b3"/>
<circle cx="404.5" cy="92.7" r="1.8" fill="#b3b3b3"/>
<circle cx="406.5" cy="92.2" r="1.8" fill="#b3b3b3"/>
<circle cx="410" cy="95.6" r="1.8" fill="#b3b3b3"/>
<circle cx="411" cy="96.6" r="1.8" fill="#b3b3b3"/>
<circle cx="414.8" cy="94.9" r="1.8" fill="#b3b3b3"/>
<circle cx="418.2" cy="92.8" r="1.8" fill="#b3b3b3"/>
<circle cx="420.3" cy="93.1" r="1.8" fill="#b3b3b3"/>
<circle cx="425.4" cy="92.4" r="1.8" fill="#b3b3b3"/>
<circle cx="432.7" cy="91.3" r="1.8" fill="#b3b3b3"/>
<circle cx="431.3" cy="94.5" r="1.8" fill="#b3b3b3"/>
<circle cx="444" cy="94.8" r="1.8" fill="#b3b3b3"/>
<circle cx="372.8" cy="97.2" r="1.8" fill="#b3b3b3"/>
<circle cx="375.3" cy="96.3" r="1.8" fill="#b3b3b3"/>
<circle cx="395.8" cy="106.2" r="1.8" fill="#b3b3b3"/>
<circle cx="405.2" cy="107.6" r="1.8" fill="#b3b3b3"/>
<circle cx="407.2" cy="105.9" r="1.8" fill="#b3b3b3"/>
<circle cx="462.6" cy="69.4" r="1.8" fill="#b3b3b3"/>
<circle cx="481.4" cy="69.4" r="1.8" fill="#b3b3b3"/>
<circle cx="447.6" cy="84" r="1.8" fill="#b3b3b3"/>
<circle cx="405" cy="70" r="1.8" fill="#b3b3b3"/>
<circle cx="408" cy="71" r="1.8" fill="#b3b3b3"/>
<circle cx="410.5" cy="72" r="1.8" fill="#b3b3b3"/>
<circle cx="406" cy="73.5" r="1.8" fill="#b3b3b3"/>
<circle cx="409" cy="74.5" r="1.8" fill="#b3b3b3"/>
<circle cx="411" cy="75.5" r="1.8" fill="#b3b3b3"/>
<circle cx="407" cy="76" r="1.8" fill="#b3b3b3"/>
<circle cx="404.5" cy="75" r="1.8" fill="#b3b3b3"/>
<circle cx="503.2" cy="57.5" r="1.8" fill="#b3b3b3"/>
<circle cx="497.9" cy="64.3" r="1.8" fill="#b3b3b3"/>
<circle cx="509.3" cy="63.4" r="1.8" fill="#b3b3b3"/>
<circle cx="539.3" cy="66.5" r="1.8" fill="#b3b3b3"/>
<circle cx="545.6" cy="66.3" r="1.8" fill="#b3b3b3"/>
<circle cx="545.6" cy="68.2" r="1.8" fill="#b3b3b3"/>
<circle cx="538" cy="70.9" r="1.8" fill="#b3b3b3"/>
<circle cx="539.3" cy="71.5" r="1.8" fill="#b3b3b3"/>
<circle cx="540.4" cy="74.8" r="1.8" fill="#b3b3b3"/>
<circle cx="544.6" cy="74.4" r="1.8" fill="#b3b3b3"/>
<circle cx="549.4" cy="73.9" r="1.8" fill="#b3b3b3"/>
<circle cx="549.4" cy="76.1" r="1.8" fill="#b3b3b3"/>
<circle cx="549.4" cy="80.1" r="1.8" fill="#b3b3b3"/>
<circle cx="555.1" cy="79.7" r="1.8" fill="#b3b3b3"/>
<circle cx="562.7" cy="80.1" r="1.8" fill="#b3b3b3"/>
<circle cx="498.6" cy="83.8" r="1.8" fill="#b3b3b3"/>
<circle cx="526.4" cy="82" r="1.8" fill="#b3b3b3"/>
<circle cx="528.8" cy="83.4" r="1.8" fill="#b3b3b3"/>
<circle cx="534.7" cy="81.8" r="1.8" fill="#b3b3b3"/>
<circle cx="539.3" cy="81.8" r="1.8" fill="#b3b3b3"/>
<circle cx="541.9" cy="83.4" r="1.8" fill="#b3b3b3"/>
<circle cx="540" cy="84.7" r="1.8" fill="#b3b3b3"/>
<circle cx="543.2" cy="84.7" r="1.8" fill="#b3b3b3"/>
<circle cx="537.3" cy="85.7" r="1.8" fill="#b3b3b3"/>
<circle cx="544.6" cy="86.6" r="1.8" fill="#b3b3b3"/>
<circle cx="520.2" cy="86" r="1.8" fill="#b3b3b3"/>
<circle cx="521.6" cy="88" r="1.8" fill="#b3b3b3"/>
<circle cx="550.5" cy="87.6" r="1.8" fill="#b3b3b3"/>
<circle cx="561.2" cy="87.6" r="1.8" fill="#b3b3b3"/>
<circle cx="507.5" cy="91.2" r="1.8" fill="#b3b3b3"/>
<circle cx="510.1" cy="90.2" r="1.8" fill="#b3b3b3"/>
<circle cx="540" cy="91.2" r="1.8" fill="#b3b3b3"/>
<circle cx="542.6" cy="90.6" r="1.8" fill="#b3b3b3"/>
<circle cx="498.3" cy="93" r="1.8" fill="#b3b3b3"/>
<circle cx="499.2" cy="95.8" r="1.8" fill="#b3b3b3"/>
<circle cx="547.8" cy="93.6" r="1.8" fill="#b3b3b3"/>
<circle cx="553.1" cy="95.8" r="1.8" fill="#b3b3b3"/>
<circle cx="556.4" cy="95.8" r="1.8" fill="#b3b3b3"/>
<circle cx="559" cy="95.8" r="1.8" fill="#b3b3b3"/>
<circle cx="564.9" cy="95.8" r="1.8" fill="#b3b3b3"/>
<circle cx="539.3" cy="95.2" r="1.8" fill="#b3b3b3"/>
<circle cx="541.7" cy="97.8" r="1.8" fill="#b3b3b3"/>
<circle cx="524.8" cy="98.1" r="1.8" fill="#b3b3b3"/>
<circle cx="530.1" cy="96.5" r="1.8" fill="#b3b3b3"/>
<circle cx="530.1" cy="100.4" r="1.8" fill="#b3b3b3"/>
<circle cx="549.8" cy="98.9" r="1.8" fill="#b3b3b3"/>
<circle cx="554.4" cy="98.5" r="1.8" fill="#b3b3b3"/>
<circle cx="566.6" cy="100.4" r="1.8" fill="#b3b3b3"/>
<circle cx="550.2" cy="103.5" r="1.8" fill="#b3b3b3"/>
<circle cx="558.4" cy="103.3" r="1.8" fill="#b3b3b3"/>
<circle cx="561.6" cy="105" r="1.8" fill="#b3b3b3"/>
<circle cx="543" cy="109.6" r="1.8" fill="#b3b3b3"/>
<circle cx="552.4" cy="111.2" r="1.8" fill="#b3b3b3"/>
<circle cx="535.1" cy="120.4" r="1.8" fill="#b3b3b3"/>
<circle cx="579" cy="95.8" r="1.8" fill="#b3b3b3"/>
<circle cx="582.6" cy="102" r="1.8" fill="#b3b3b3"/>
<circle cx="597.4" cy="104" r="1.8" fill="#b3b3b3"/>
<circle cx="616.4" cy="102.4" r="1.8" fill="#b3b3b3"/>
<circle cx="555" cy="96.5" r="1.8" fill="#b3b3b3"/>
<circle cx="557.5" cy="97" r="1.8" fill="#b3b3b3"/>
<circle cx="560" cy="96.8" r="1.8" fill="#b3b3b3"/>
<circle cx="562.5" cy="97.2" r="1.8" fill="#b3b3b3"/>
<circle cx="527.5" cy="84.5" r="1.8" fill="#b3b3b3"/>
<circle cx="530" cy="85.5" r="1.8" fill="#b3b3b3"/>
<circle cx="363.1" cy="145.4" r="1.8" fill="#b3b3b3"/>
<circle cx="364" cy="153.1" r="1.8" fill="#b3b3b3"/>
<circle cx="363.5" cy="158.5" r="1.8" fill="#b3b3b3"/>
<circle cx="364.2" cy="178.2" r="1.8" fill="#b3b3b3"/>
<circle cx="368.3" cy="164" r="1.8" fill="#b3b3b3"/>
<circle cx="374.4" cy="160.4" r="1.8" fill="#b3b3b3"/>
<circle cx="373" cy="163.7" r="1.8" fill="#b3b3b3"/>
<circle cx="375.1" cy="164" r="1.8" fill="#b3b3b3"/>
<circle cx="385.3" cy="156.4" r="1.8" fill="#b3b3b3"/>
<circle cx="386.7" cy="154.6" r="1.8" fill="#b3b3b3"/>
<circle cx="388.9" cy="155.3" r="1.8" fill="#b3b3b3"/>
<circle cx="391.1" cy="156" r="1.8" fill="#b3b3b3"/>
<circle cx="394.4" cy="155.3" r="1.8" fill="#b3b3b3"/>
<circle cx="395.8" cy="154.3" r="1.8" fill="#b3b3b3"/>
<circle cx="400.2" cy="155" r="1.8" fill="#b3b3b3"/>
<circle cx="405.3" cy="154.9" r="1.8" fill="#b3b3b3"/>
<circle cx="400.2" cy="145.6" r="1.8" fill="#b3b3b3"/>
<circle cx="404.5" cy="141.5" r="1.8" fill="#b3b3b3"/>
<circle cx="406.6" cy="141.8" r="1.8" fill="#b3b3b3"/>
<circle cx="409.9" cy="147.3" r="1.8" fill="#b3b3b3"/>
<circle cx="418.2" cy="145.6" r="1.8" fill="#b3b3b3"/>
<circle cx="431.3" cy="144.4" r="1.8" fill="#b3b3b3"/>
<circle cx="425.1" cy="149.5" r="1.8" fill="#b3b3b3"/>
<circle cx="415.4" cy="152" r="1.8" fill="#b3b3b3"/>
<circle cx="444" cy="145.9" r="1.8" fill="#b3b3b3"/>
<circle cx="432.8" cy="155.7" r="1.8" fill="#b3b3b3"/>
<circle cx="415" cy="158.2" r="1.8" fill="#b3b3b3"/>
<circle cx="417.9" cy="158.9" r="1.8" fill="#b3b3b3"/>
<circle cx="420" cy="159.6" r="1.8" fill="#b3b3b3"/>
<circle cx="424.8" cy="159.2" r="1.8" fill="#b3b3b3"/>
<circle cx="429" cy="161.1" r="1.8" fill="#b3b3b3"/>
<circle cx="402.7" cy="162.2" r="1.8" fill="#b3b3b3"/>
<circle cx="406.3" cy="161.8" r="1.8" fill="#b3b3b3"/>
<circle cx="404.8" cy="162.8" r="1.8" fill="#b3b3b3"/>
<circle cx="409.2" cy="163.3" r="1.8" fill="#b3b3b3"/>
<circle cx="407.7" cy="165.4" r="1.8" fill="#b3b3b3"/>
<circle cx="410.9" cy="165.7" r="1.8" fill="#b3b3b3"/>
<circle cx="414.7" cy="163.3" r="1.8" fill="#b3b3b3"/>
<circle cx="419" cy="164.7" r="1.8" fill="#b3b3b3"/>
<circle cx="423.7" cy="163.3" r="1.8" fill="#b3b3b3"/>
<circle cx="395" cy="165.4" r="1.8" fill="#b3b3b3"/>
<circle cx="423.7" cy="167.6" r="1.8" fill="#b3b3b3"/>
<circle cx="421.5" cy="169.8" r="1.8" fill="#b3b3b3"/>
<circle cx="420" cy="170.8" r="1.8" fill="#b3b3b3"/>
<circle cx="407.7" cy="169.5" r="1.8" fill="#b3b3b3"/>
<circle cx="404.5" cy="171.2" r="1.8" fill="#b3b3b3"/>
<circle cx="386.7" cy="175.6" r="1.8" fill="#b3b3b3"/>
<circle cx="390.3" cy="174.9" r="1.8" fill="#b3b3b3"/>
<circle cx="392.5" cy="174.1" r="1.8" fill="#b3b3b3"/>
<circle cx="408.4" cy="176.7" r="1.8" fill="#b3b3b3"/>
<circle cx="408" cy="180.2" r="1.8" fill="#b3b3b3"/>
<circle cx="426.6" cy="182.4" r="1.8" fill="#b3b3b3"/>
<circle cx="419.3" cy="184" r="1.8" fill="#b3b3b3"/>
<circle cx="395" cy="193.3" r="1.8" fill="#b3b3b3"/>
<circle cx="404.5" cy="192.2" r="1.8" fill="#b3b3b3"/>
<circle cx="412.8" cy="195.1" r="1.8" fill="#b3b3b3"/>
<circle cx="426.6" cy="191.5" r="1.8" fill="#b3b3b3"/>
<circle cx="431.6" cy="194.1" r="1.8" fill="#b3b3b3"/>
<circle cx="428" cy="198.3" r="1.8" fill="#b3b3b3"/>
<circle cx="410.6" cy="201.4" r="1.8" fill="#b3b3b3"/>
<circle cx="414.7" cy="201.7" r="1.8" fill="#b3b3b3"/>
<circle cx="417.9" cy="207.2" r="1.8" fill="#b3b3b3"/>
<circle cx="423.7" cy="204.6" r="1.8" fill="#b3b3b3"/>
<circle cx="426.9" cy="211.1" r="1.8" fill="#b3b3b3"/>
<circle cx="403.1" cy="212.8" r="1.8" fill="#b3b3b3"/>
<circle cx="410.6" cy="213" r="1.8" fill="#b3b3b3"/>
<circle cx="405.3" cy="217.3" r="1.8" fill="#b3b3b3"/>
<circle cx="407.4" cy="220.5" r="1.8" fill="#b3b3b3"/>
<circle cx="447.6" cy="159.4" r="1.8" fill="#b3b3b3"/>
<circle cx="462.6" cy="194" r="1.8" fill="#b3b3b3"/>
<circle cx="481.4" cy="191.4" r="1.8" fill="#b3b3b3"/>
<circle cx="539.4" cy="145.1" r="1.8" fill="#b3b3b3"/>
<circle cx="541.3" cy="149.9" r="1.8" fill="#b3b3b3"/>
<circle cx="544.6" cy="147.8" r="1.8" fill="#b3b3b3"/>
<circle cx="554.3" cy="149.9" r="1.8" fill="#b3b3b3"/>
<circle cx="567.7" cy="152.1" r="1.8" fill="#b3b3b3"/>
<circle cx="530.4" cy="164" r="1.8" fill="#b3b3b3"/>
<circle cx="534.9" cy="170.1" r="1.8" fill="#b3b3b3"/>
<circle cx="547.8" cy="168.6" r="1.8" fill="#b3b3b3"/>
<circle cx="553.2" cy="166.6" r="1.8" fill="#b3b3b3"/>
<circle cx="560.1" cy="162.5" r="1.8" fill="#b3b3b3"/>
<circle cx="566.3" cy="161.8" r="1.8" fill="#b3b3b3"/>
<circle cx="579" cy="164.7" r="1.8" fill="#b3b3b3"/>
<circle cx="561.6" cy="172.7" r="1.8" fill="#b3b3b3"/>
<circle cx="554" cy="178.5" r="1.8" fill="#b3b3b3"/>
<circle cx="556.9" cy="177.8" r="1.8" fill="#b3b3b3"/>
<circle cx="558.4" cy="180.7" r="1.8" fill="#b3b3b3"/>
<circle cx="559" cy="182.1" r="1.8" fill="#b3b3b3"/>
<circle cx="563.7" cy="179.2" r="1.8" fill="#b3b3b3"/>
<circle cx="558.4" cy="186.4" r="1.8" fill="#b3b3b3"/>
<circle cx="561.9" cy="188.9" r="1.8" fill="#b3b3b3"/>
<circle cx="522.4" cy="183.3" r="1.8" fill="#b3b3b3"/>
<circle cx="499" cy="188" r="1.8" fill="#b3b3b3"/>
<circle cx="519.5" cy="190.4" r="1.8" fill="#b3b3b3"/>
<circle cx="521" cy="192.2" r="1.8" fill="#b3b3b3"/>
<circle cx="525.6" cy="194.1" r="1.8" fill="#b3b3b3"/>
<circle cx="529.7" cy="192.2" r="1.8" fill="#b3b3b3"/>
<circle cx="542" cy="198.8" r="1.8" fill="#b3b3b3"/>
<circle cx="566.3" cy="200.5" r="1.8" fill="#b3b3b3"/>
<circle cx="497.8" cy="208.5" r="1.8" fill="#b3b3b3"/>
<circle cx="498.5" cy="212.5" r="1.8" fill="#b3b3b3"/>
<circle cx="507.9" cy="211.5" r="1.8" fill="#b3b3b3"/>
<circle cx="510.1" cy="210.7" r="1.8" fill="#b3b3b3"/>
<circle cx="521.7" cy="207" r="1.8" fill="#b3b3b3"/>
<circle cx="537.4" cy="206" r="1.8" fill="#b3b3b3"/>
<circle cx="543.4" cy="205" r="1.8" fill="#b3b3b3"/>
<circle cx="552.6" cy="204.3" r="1.8" fill="#b3b3b3"/>
<circle cx="551.4" cy="207.5" r="1.8" fill="#b3b3b3"/>
<circle cx="559.7" cy="206.3" r="1.8" fill="#b3b3b3"/>
<circle cx="525" cy="214.7" r="1.8" fill="#b3b3b3"/>
<circle cx="530" cy="212.1" r="1.8" fill="#b3b3b3"/>
<circle cx="539.8" cy="210.4" r="1.8" fill="#b3b3b3"/>
<circle cx="542.7" cy="209.6" r="1.8" fill="#b3b3b3"/>
<circle cx="544.9" cy="211.8" r="1.8" fill="#b3b3b3"/>
<circle cx="550" cy="209.6" r="1.8" fill="#b3b3b3"/>
<circle cx="550.7" cy="214" r="1.8" fill="#b3b3b3"/>
<circle cx="538.1" cy="214.4" r="1.8" fill="#b3b3b3"/>
<circle cx="540.3" cy="216.9" r="1.8" fill="#b3b3b3"/>
<circle cx="542.7" cy="215.9" r="1.8" fill="#b3b3b3"/>
<circle cx="555" cy="212.8" r="1.8" fill="#b3b3b3"/>
<circle cx="557.2" cy="213.6" r="1.8" fill="#b3b3b3"/>
<circle cx="562.7" cy="215" r="1.8" fill="#b3b3b3"/>
<circle cx="561.6" cy="217.9" r="1.8" fill="#b3b3b3"/>
<circle cx="534.8" cy="218.6" r="1.8" fill="#b3b3b3"/>
<circle cx="539.8" cy="217.6" r="1.8" fill="#b3b3b3"/>
<circle cx="545.9" cy="219.1" r="1.8" fill="#b3b3b3"/>
<circle cx="549.7" cy="216.2" r="1.8" fill="#b3b3b3"/>
<circle cx="554.3" cy="218.6" r="1.8" fill="#b3b3b3"/>
<circle cx="555.8" cy="219.1" r="1.8" fill="#b3b3b3"/>
<circle cx="498.5" cy="221.5" r="1.8" fill="#b3b3b3"/>
<circle cx="503.2" cy="223.4" r="1.8" fill="#b3b3b3"/>
<circle cx="509.4" cy="220.8" r="1.8" fill="#b3b3b3"/>
<circle cx="526.1" cy="221.7" r="1.8" fill="#b3b3b3"/>
<circle cx="527.5" cy="221.7" r="1.8" fill="#b3b3b3"/>
<circle cx="542.4" cy="222.4" r="1.8" fill="#b3b3b3"/>
<circle cx="549.7" cy="225.1" r="1.8" fill="#b3b3b3"/>
<circle cx="539.5" cy="229.9" r="1.8" fill="#b3b3b3"/>
<circle cx="541.3" cy="229.6" r="1.8" fill="#b3b3b3"/>
<circle cx="545.3" cy="231.4" r="1.8" fill="#b3b3b3"/>
<circle cx="549.7" cy="228.9" r="1.8" fill="#b3b3b3"/>
<circle cx="582.6" cy="182.4" r="1.8" fill="#b3b3b3"/>
<circle cx="597.4" cy="162" r="1.8" fill="#b3b3b3"/>
<circle cx="616.4" cy="167.4" r="1.8" fill="#b3b3b3"/>
<circle cx="557" cy="213.4" r="1.8" fill="#b3b3b3"/>
<circle cx="562.4" cy="215" r="1.8" fill="#b3b3b3"/>
<line x1="363.3" y1="90" x2="481.4" y2="63.6" stroke="#4d80ae" stroke-width="1.35"/>
<line x1="498" y1="79.2" x2="616.4" y2="105.4" stroke="#4d80ae" stroke-width="1.35"/>
<line x1="363" y1="161.2" x2="481.4" y2="185" stroke="#4d80ae" stroke-width="1.35"/>
<line x1="498" y1="217.6" x2="616.4" y2="169.6" stroke="#4d80ae" stroke-width="1.35"/>
<text x="460" y="43.56" font-size="7.4" fill="#000" text-anchor="middle"><tspan font-style="italic">R</tspan> = 0.3</text>
<text x="460" y="56.56" font-size="7.4" fill="#000" text-anchor="middle"><tspan font-style="italic">p</tspan> = 0.0086</text>
<text x="596" y="49.76" font-size="7.4" fill="#000" text-anchor="middle"><tspan font-style="italic">R</tspan> = − 0.4</text>
<text x="596" y="62.56" font-size="7.4" fill="#000" text-anchor="middle"><tspan font-style="italic">p</tspan> = 0.00029</text>
<text x="453.5" y="212.16" font-size="7.4" fill="#000" text-anchor="middle"><tspan font-style="italic">R</tspan> = − 0.22</text>
<text x="453.5" y="225.56" font-size="7.4" fill="#000" text-anchor="middle"><tspan font-style="italic">p</tspan> = 0.02784</text>
<text x="595" y="206.96" font-size="7.4" fill="#000" text-anchor="middle"><tspan font-style="italic">R</tspan> = 0.36</text>
<text x="595" y="220.36" font-size="7.4" fill="#000" text-anchor="middle"><tspan font-style="italic">p</tspan> = 0.0011</text>
<text x="1" y="285.6" font-size="11.5" fill="#000" font-weight="bold">c</text>
<line x1="24.4" y1="276" x2="24.4" y2="410" stroke="#333333" stroke-width="1.1"/>
<line x1="24.4" y1="410" x2="178.7" y2="410" stroke="#333333" stroke-width="1.1"/>
<line x1="24.4" y1="438.4" x2="24.4" y2="572.1" stroke="#333333" stroke-width="1.1"/>
<line x1="24.4" y1="572.1" x2="178.7" y2="572.1" stroke="#333333" stroke-width="1.1"/>
<line x1="22.2" y1="307" x2="24.4" y2="307" stroke="#333333" stroke-width="0.8"/>
<text x="17.6" y="307" font-size="7.2" fill="#555555" text-anchor="middle" transform="rotate(-90 17.6 307)" dominant-baseline="central">10</text>
<line x1="22.2" y1="343.1" x2="24.4" y2="343.1" stroke="#333333" stroke-width="0.8"/>
<text x="17.6" y="343.1" font-size="7.2" fill="#555555" text-anchor="middle" transform="rotate(-90 17.6 343.1)" dominant-baseline="central">5</text>
<line x1="22.2" y1="379.2" x2="24.4" y2="379.2" stroke="#333333" stroke-width="0.8"/>
<text x="17.6" y="379.2" font-size="7.2" fill="#555555" text-anchor="middle" transform="rotate(-90 17.6 379.2)" dominant-baseline="central">0</text>
<line x1="22.2" y1="479.5" x2="24.4" y2="479.5" stroke="#333333" stroke-width="0.8"/>
<text x="17.6" y="479.5" font-size="7.2" fill="#555555" text-anchor="middle" transform="rotate(-90 17.6 479.5)" dominant-baseline="central">100</text>
<line x1="22.2" y1="523.5" x2="24.4" y2="523.5" stroke="#333333" stroke-width="0.8"/>
<text x="17.6" y="523.5" font-size="7.2" fill="#555555" text-anchor="middle" transform="rotate(-90 17.6 523.5)" dominant-baseline="central">50</text>
<line x1="22.2" y1="567.4" x2="24.4" y2="567.4" stroke="#333333" stroke-width="0.8"/>
<text x="17.6" y="567.4" font-size="7.2" fill="#555555" text-anchor="middle" transform="rotate(-90 17.6 567.4)" dominant-baseline="central">0</text>
<line x1="46.5" y1="410" x2="46.5" y2="412.2" stroke="#333333" stroke-width="0.8"/>
<line x1="83.2" y1="410" x2="83.2" y2="412.2" stroke="#333333" stroke-width="0.8"/>
<line x1="119.8" y1="410" x2="119.8" y2="412.2" stroke="#333333" stroke-width="0.8"/>
<line x1="156.4" y1="410" x2="156.4" y2="412.2" stroke="#333333" stroke-width="0.8"/>
<line x1="46.5" y1="572.1" x2="46.5" y2="574.3" stroke="#333333" stroke-width="0.8"/>
<line x1="83.2" y1="572.1" x2="83.2" y2="574.3" stroke="#333333" stroke-width="0.8"/>
<line x1="119.8" y1="572.1" x2="119.8" y2="574.3" stroke="#333333" stroke-width="0.8"/>
<line x1="156.4" y1="572.1" x2="156.4" y2="574.3" stroke="#333333" stroke-width="0.8"/>
<text x="9" y="332.8" font-size="10" fill="#000" text-anchor="middle" transform="rotate(-90 9 332.8)">Log10 VHRs</text>
<text x="8.9" y="499.5" font-size="10" fill="#000" text-anchor="middle" transform="rotate(-90 8.9 499.5)">Lysogenic proportion (%)</text>
<line x1="46.5" y1="374.3" x2="46.5" y2="375.2" stroke="#3d3d3d" stroke-width="0.8"/>
<line x1="46.5" y1="378.2" x2="46.5" y2="378.6" stroke="#3d3d3d" stroke-width="0.8"/>
<rect x="32.5" y="375.2" width="28" height="3" fill="#84c9c8" stroke="#3d3d3d" stroke-width="0.8"/>
<line x1="32.5" y1="377.5" x2="60.5" y2="377.5" stroke="#333" stroke-width="1.2"/>
<line x1="83.2" y1="331.6" x2="83.2" y2="354.5" stroke="#3d3d3d" stroke-width="0.8"/>
<line x1="83.2" y1="374.6" x2="83.2" y2="390.2" stroke="#3d3d3d" stroke-width="0.8"/>
<rect x="69.2" y="354.5" width="28" height="20.1" fill="#e37e9b" stroke="#3d3d3d" stroke-width="0.8"/>
<line x1="69.2" y1="367.1" x2="97.2" y2="367.1" stroke="#333" stroke-width="1.2"/>
<line x1="119.8" y1="368.3" x2="119.8" y2="369.2" stroke="#3d3d3d" stroke-width="0.8"/>
<line x1="119.8" y1="376.7" x2="119.8" y2="383.7" stroke="#3d3d3d" stroke-width="0.8"/>
<rect x="105.8" y="369.2" width="28" height="7.5" fill="#84c9c8" stroke="#3d3d3d" stroke-width="0.8"/>
<line x1="105.8" y1="370.6" x2="133.8" y2="370.6" stroke="#333" stroke-width="1.2"/>
<line x1="156.4" y1="344" x2="156.4" y2="365.2" stroke="#3d3d3d" stroke-width="0.8"/>
<line x1="156.4" y1="381.6" x2="156.4" y2="404" stroke="#3d3d3d" stroke-width="0.8"/>
<rect x="142.4" y="365.2" width="28" height="16.4" fill="#e37e9b" stroke="#3d3d3d" stroke-width="0.8"/>
<line x1="142.4" y1="376.2" x2="170.4" y2="376.2" stroke="#333" stroke-width="1.2"/>
<circle cx="46.5" cy="330.6" r="1.7" fill="#333"/>
<circle cx="46.5" cy="360.7" r="1.7" fill="#333"/>
<circle cx="46.5" cy="390.3" r="1.7" fill="#333"/>
<circle cx="46.5" cy="391.6" r="1.7" fill="#333"/>
<circle cx="83.2" cy="317.6" r="1.7" fill="#333"/>
<circle cx="119.8" cy="352.4" r="1.7" fill="#333"/>
<circle cx="156.4" cy="411.3" r="1.7" fill="#333"/>
<line x1="46.5" y1="479.5" x2="46.5" y2="493.3" stroke="#3d3d3d" stroke-width="0.8"/>
<line x1="46.5" y1="504.8" x2="46.5" y2="507.4" stroke="#3d3d3d" stroke-width="0.8"/>
<rect x="32.5" y="493.3" width="28" height="11.5" fill="#84c9c8" stroke="#3d3d3d" stroke-width="0.8"/>
<line x1="32.5" y1="493.8" x2="60.5" y2="493.8" stroke="#333" stroke-width="1.2"/>
<line x1="83.2" y1="479.5" x2="83.2" y2="496.2" stroke="#3d3d3d" stroke-width="0.8"/>
<line x1="83.2" y1="530" x2="83.2" y2="562.8" stroke="#3d3d3d" stroke-width="0.8"/>
<rect x="69.2" y="496.2" width="28" height="33.8" fill="#e37e9b" stroke="#3d3d3d" stroke-width="0.8"/>
<line x1="69.2" y1="505.7" x2="97.2" y2="505.7" stroke="#333" stroke-width="1.2"/>
<line x1="119.8" y1="520.4" x2="119.8" y2="527.4" stroke="#3d3d3d" stroke-width="0.8"/>
<line x1="119.8" y1="549" x2="119.8" y2="564.2" stroke="#3d3d3d" stroke-width="0.8"/>
<rect x="105.8" y="527.4" width="28" height="21.6" fill="#84c9c8" stroke="#3d3d3d" stroke-width="0.8"/>
<line x1="105.8" y1="529.8" x2="133.8" y2="529.8" stroke="#333" stroke-width="1.2"/>
<line x1="156.4" y1="486" x2="156.4" y2="516" stroke="#3d3d3d" stroke-width="0.8"/>
<line x1="156.4" y1="552" x2="156.4" y2="566.6" stroke="#3d3d3d" stroke-width="0.8"/>
<rect x="142.4" y="516" width="28" height="36" fill="#e37e9b" stroke="#3d3d3d" stroke-width="0.8"/>
<line x1="142.4" y1="543" x2="170.4" y2="543" stroke="#333" stroke-width="1.2"/>
<circle cx="119.8" cy="483.4" r="1.7" fill="#333"/>
<text x="49" y="577.5" font-size="7.8" fill="#555555" text-anchor="end" transform="rotate(-45 49 577.5)" dominant-baseline="central">CPR-H</text>
<text x="85.7" y="577.5" font-size="7.8" fill="#555555" text-anchor="end" transform="rotate(-45 85.7 577.5)" dominant-baseline="central">CPR-L</text>
<text x="122.3" y="577.5" font-size="7.8" fill="#555555" text-anchor="end" transform="rotate(-45 122.3 577.5)" dominant-baseline="central">DPANN-H</text>
<text x="158.9" y="577.5" font-size="7.8" fill="#555555" text-anchor="end" transform="rotate(-45 158.9 577.5)" dominant-baseline="central">DPANN-L</text>
<path d="M46.5 284.3V282H119.8V284.3" fill="none" stroke="#777" stroke-width="0.8"/>
<path d="M83.2 294.5V292.2H156.4V294.5" fill="none" stroke="#3a3a3a" stroke-width="0.8"/>
<text x="117.7" y="295.4" font-size="10" fill="#222" text-anchor="middle" letter-spacing="0.25">***</text>
<path d="M119.8 304.3V302H156.4V304.3" fill="none" stroke="#777" stroke-width="0.8"/>
<path d="M46.5 315.3V313H83.2V315.3" fill="none" stroke="#3a3a3a" stroke-width="0.8"/>
<text x="64.85" y="315.8" font-size="10" fill="#222" text-anchor="middle" letter-spacing="0.25">*</text>
<path d="M46.5 446.5V444.2H119.8V446.5" fill="none" stroke="#3a3a3a" stroke-width="0.8"/>
<text x="83.15" y="446.5" font-size="10" fill="#222" text-anchor="middle" letter-spacing="0.25">***</text>
<path d="M83.2 457V454.7H156.4V457" fill="none" stroke="#3a3a3a" stroke-width="0.8"/>
<text x="117.7" y="456.8" font-size="10" fill="#222" text-anchor="middle" letter-spacing="0.25">***</text>
<path d="M119.8 467.3V465H156.4V467.3" fill="none" stroke="#777" stroke-width="0.8"/>
<path d="M46.5 477.5V475.2H83.2V477.5" fill="none" stroke="#3a3a3a" stroke-width="0.8"/>
<text x="67.05" y="477.8" font-size="10" fill="#222" text-anchor="middle" letter-spacing="0.25">**</text>
<text x="190" y="399.99" font-size="8.3" fill="#1a1a1a">Group</text>
<line x1="195.1" y1="414" x2="195.1" y2="423.9" stroke="#3d3d3d" stroke-width="0.8"/>
<rect x="190.3" y="415.5" width="9.6" height="6.9" fill="#84c9c8" stroke="#3d3d3d" stroke-width="0.7"/>
<line x1="190.3" y1="418.95" x2="199.9" y2="418.95" stroke="#444" stroke-width="0.9"/>
<line x1="195.1" y1="434.3" x2="195.1" y2="444.2" stroke="#3d3d3d" stroke-width="0.8"/>
<rect x="190.3" y="435.8" width="9.6" height="6.9" fill="#e37e9b" stroke="#3d3d3d" stroke-width="0.7"/>
<line x1="190.3" y1="439.25" x2="199.9" y2="439.25" stroke="#444" stroke-width="0.9"/>
<text x="205.8" y="421.44" font-size="6.5" fill="#333">High pH</text>
<text x="205.8" y="441.74" font-size="6.5" fill="#333">Low pH</text>
<text x="259.9" y="285.7" font-size="11.5" fill="#000" font-weight="bold">d</text>
<rect x="279.4" y="295" width="24.74" height="24.45" fill="#d77464"/>
<rect x="303.54" y="295" width="24.74" height="24.45" fill="#fde6df"/>
<rect x="327.69" y="295" width="24.74" height="24.45" fill="#d3e1ed"/>
<rect x="351.83" y="295" width="24.74" height="24.45" fill="#dae4ee"/>
<rect x="375.97" y="295" width="24.74" height="24.45" fill="#d6e2ed"/>
<rect x="400.12" y="295" width="24.74" height="24.45" fill="#f2b9aa"/>
<rect x="424.26" y="295" width="24.74" height="24.45" fill="#8c3b3d"/>
<rect x="448.4" y="295" width="24.74" height="24.45" fill="#e8988b"/>
<rect x="472.54" y="295" width="24.74" height="24.45" fill="#d67060"/>
<rect x="496.69" y="295" width="24.74" height="24.45" fill="#e8988b"/>
<rect x="520.83" y="295" width="24.74" height="24.45" fill="#fde5de"/>
<rect x="544.97" y="295" width="24.74" height="24.45" fill="#c7d9e8"/>
<rect x="569.12" y="295" width="24.74" height="24.45" fill="#eca89b"/>
<rect x="593.26" y="295" width="24.14" height="24.45" fill="#9bbdd8"/>
<rect x="279.4" y="318.85" width="24.74" height="24.45" fill="#da7c6c"/>
<rect x="303.54" y="318.85" width="24.74" height="24.45" fill="#f9d3ca"/>
<rect x="327.69" y="318.85" width="24.74" height="24.45" fill="#d8e3ee"/>
<rect x="351.83" y="318.85" width="24.74" height="24.45" fill="#e4ebf3"/>
<rect x="375.97" y="318.85" width="24.74" height="24.45" fill="#c9dae9"/>
<rect x="400.12" y="318.85" width="24.74" height="24.45" fill="#f3bcac"/>
<rect x="424.26" y="318.85" width="24.74" height="24.45" fill="#7c2b30"/>
<rect x="448.4" y="318.85" width="24.74" height="24.45" fill="#e38b7d"/>
<rect x="472.54" y="318.85" width="24.74" height="24.45" fill="#d67060"/>
<rect x="496.69" y="318.85" width="24.74" height="24.45" fill="#e6948a"/>
<rect x="520.83" y="318.85" width="24.74" height="24.45" fill="#eef3f8"/>
<rect x="544.97" y="318.85" width="24.74" height="24.45" fill="#c5d8e8"/>
<rect x="569.12" y="318.85" width="24.74" height="24.45" fill="#eca195"/>
<rect x="593.26" y="318.85" width="24.14" height="24.45" fill="#a2c2db"/>
<rect x="279.4" y="342.7" width="24.74" height="24.45" fill="#e8978a"/>
<rect x="303.54" y="342.7" width="24.74" height="24.45" fill="#f7c6ba"/>
<rect x="327.69" y="342.7" width="24.74" height="24.45" fill="#e38b7d"/>
<rect x="351.83" y="342.7" width="24.74" height="24.45" fill="#d2e0ed"/>
<rect x="375.97" y="342.7" width="24.74" height="24.45" fill="#adc9e0"/>
<rect x="400.12" y="342.7" width="24.74" height="24.45" fill="#fad3c9"/>
<rect x="424.26" y="342.7" width="24.74" height="24.45" fill="#7a2a2f"/>
<rect x="448.4" y="342.7" width="24.74" height="24.45" fill="#e38b7d"/>
<rect x="472.54" y="342.7" width="24.74" height="24.45" fill="#f8cdc2"/>
<rect x="496.69" y="342.7" width="24.74" height="24.45" fill="#fdf4f1"/>
<rect x="520.83" y="342.7" width="24.74" height="24.45" fill="#fde7e0"/>
<rect x="544.97" y="342.7" width="24.74" height="24.45" fill="#d87a6a"/>
<rect x="569.12" y="342.7" width="24.74" height="24.45" fill="#e8978a"/>
<rect x="593.26" y="342.7" width="24.14" height="24.45" fill="#eda99c"/>
<rect x="279.4" y="366.55" width="24.74" height="23.85" fill="#f3b8a9"/>
<rect x="303.54" y="366.55" width="24.74" height="23.85" fill="#e38b7d"/>
<rect x="327.69" y="366.55" width="24.74" height="23.85" fill="#d67060"/>
<rect x="351.83" y="366.55" width="24.74" height="23.85" fill="#e8eef4"/>
<rect x="375.97" y="366.55" width="24.74" height="23.85" fill="#b5cce1"/>
<rect x="400.12" y="366.55" width="24.74" height="23.85" fill="#fde1da"/>
<rect x="424.26" y="366.55" width="24.74" height="23.85" fill="#6e2228"/>
<rect x="448.4" y="366.55" width="24.74" height="23.85" fill="#a84c4c"/>
<rect x="472.54" y="366.55" width="24.74" height="23.85" fill="#eea79b"/>
<rect x="496.69" y="366.55" width="24.74" height="23.85" fill="#e1eaf3"/>
<rect x="520.83" y="366.55" width="24.74" height="23.85" fill="#f6bdb1"/>
<rect x="544.97" y="366.55" width="24.74" height="23.85" fill="#d67060"/>
<rect x="569.12" y="366.55" width="24.74" height="23.85" fill="#e8978a"/>
<rect x="593.26" y="366.55" width="24.14" height="23.85" fill="#e8978a"/>
<text x="291.67" y="311.23" font-size="10" fill="#111" text-anchor="middle" letter-spacing="0.35">**</text>
<text x="436.53" y="311.23" font-size="10" fill="#111" text-anchor="middle" letter-spacing="0.35">***</text>
<text x="484.82" y="311.23" font-size="10" fill="#111" text-anchor="middle" letter-spacing="0.35">**</text>
<text x="290.37" y="335.07" font-size="10" fill="#111" text-anchor="middle" letter-spacing="0.35">*</text>
<text x="436.53" y="335.07" font-size="10" fill="#111" text-anchor="middle" letter-spacing="0.35">***</text>
<text x="459.37" y="335.07" font-size="10" fill="#111" text-anchor="middle" letter-spacing="0.35">*</text>
<text x="484.82" y="335.07" font-size="10" fill="#111" text-anchor="middle" letter-spacing="0.35">**</text>
<text x="338.66" y="358.93" font-size="10" fill="#111" text-anchor="middle" letter-spacing="0.35">*</text>
<text x="436.53" y="358.93" font-size="10" fill="#111" text-anchor="middle" letter-spacing="0.35">***</text>
<text x="459.37" y="358.93" font-size="10" fill="#111" text-anchor="middle" letter-spacing="0.35">*</text>
<text x="555.94" y="358.93" font-size="10" fill="#111" text-anchor="middle" letter-spacing="0.35">*</text>
<text x="314.51" y="382.78" font-size="10" fill="#111" text-anchor="middle" letter-spacing="0.35">*</text>
<text x="339.96" y="382.78" font-size="10" fill="#111" text-anchor="middle" letter-spacing="0.35">**</text>
<text x="436.53" y="382.78" font-size="10" fill="#111" text-anchor="middle" letter-spacing="0.35">***</text>
<text x="460.67" y="382.78" font-size="10" fill="#111" text-anchor="middle" letter-spacing="0.35">***</text>
<text x="557.24" y="382.78" font-size="10" fill="#111" text-anchor="middle" letter-spacing="0.35">**</text>
<line x1="291.47" y1="390.4" x2="291.47" y2="392.4" stroke="#666" stroke-width="0.8"/>
<text x="291.47" y="401.67" font-size="7.7" fill="#555" text-anchor="middle">Cd</text>
<line x1="315.61" y1="390.4" x2="315.61" y2="392.4" stroke="#666" stroke-width="0.8"/>
<text x="315.61" y="401.67" font-size="7.7" fill="#555" text-anchor="middle">Cu</text>
<line x1="339.76" y1="390.4" x2="339.76" y2="392.4" stroke="#666" stroke-width="0.8"/>
<text x="339.76" y="401.67" font-size="7.7" fill="#555" text-anchor="middle">EC</text>
<line x1="363.9" y1="390.4" x2="363.9" y2="392.4" stroke="#666" stroke-width="0.8"/>
<text x="363.9" y="401.67" font-size="7.7" fill="#555" text-anchor="middle">Fe</text>
<line x1="388.04" y1="390.4" x2="388.04" y2="392.4" stroke="#666" stroke-width="0.8"/>
<text x="385.84" y="401.46" font-size="7.1" fill="#555" text-anchor="middle">Ferric</text>
<line x1="412.19" y1="390.4" x2="412.19" y2="392.4" stroke="#666" stroke-width="0.8"/>
<text x="412.19" y="401.42" font-size="7" fill="#555" text-anchor="middle">Ferrous</text>
<line x1="436.33" y1="390.4" x2="436.33" y2="392.4" stroke="#666" stroke-width="0.8"/>
<text x="436.33" y="401.67" font-size="7.7" fill="#555" text-anchor="middle">MAT</text>
<line x1="460.47" y1="390.4" x2="460.47" y2="392.4" stroke="#666" stroke-width="0.8"/>
<text x="460.47" y="401.67" font-size="7.7" fill="#555" text-anchor="middle">Mn</text>
<line x1="484.62" y1="390.4" x2="484.62" y2="392.4" stroke="#666" stroke-width="0.8"/>
<text x="484.62" y="401.67" font-size="7.7" fill="#555" text-anchor="middle">Pb</text>
<line x1="508.76" y1="390.4" x2="508.76" y2="392.4" stroke="#666" stroke-width="0.8"/>
<text x="508.76" y="401.67" font-size="7.7" fill="#555" text-anchor="middle">pH</text>
<line x1="532.9" y1="390.4" x2="532.9" y2="392.4" stroke="#666" stroke-width="0.8"/>
<text x="532.9" y="401.5" font-size="6.4" fill="#555" text-anchor="middle">Sulfate</text>
<line x1="557.04" y1="390.4" x2="557.04" y2="392.4" stroke="#666" stroke-width="0.8"/>
<text x="557.04" y="401.67" font-size="7.7" fill="#555" text-anchor="middle">TN</text>
<line x1="581.19" y1="390.4" x2="581.19" y2="392.4" stroke="#666" stroke-width="0.8"/>
<text x="581.19" y="401.67" font-size="7.7" fill="#555" text-anchor="middle">TOC</text>
<line x1="605.33" y1="390.4" x2="605.33" y2="392.4" stroke="#666" stroke-width="0.8"/>
<text x="605.33" y="401.67" font-size="7.7" fill="#555" text-anchor="middle">TP</text>
<text x="263.2" y="304.39" font-size="7.4" fill="#4d4d4d" text-anchor="middle">DPANN</text>
<text x="263.2" y="313.29" font-size="7.4" fill="#4d4d4d" text-anchor="middle">theta</text>
<text x="263.2" y="328.24" font-size="7.4" fill="#4d4d4d" text-anchor="middle">DPANN</text>
<text x="263.2" y="337.14" font-size="7.4" fill="#4d4d4d" text-anchor="middle">pi</text>
<text x="276" y="357.89" font-size="7.4" fill="#4d4d4d" text-anchor="end">CPR theta</text>
<text x="276" y="382.64" font-size="7.4" fill="#4d4d4d" text-anchor="end">CPR pi</text>
<text x="641.6" y="318.48" font-size="8" fill="#1a1a1a">Pearson’s R</text>
<defs><linearGradient id="rdbu" x1="0" y1="0" x2="0" y2="1">
<stop offset="0" stop-color="#6a1a2b"/><stop offset="0.0833" stop-color="#8e2f36"/><stop offset="0.1667" stop-color="#b44e4a"/>
<stop offset="0.25" stop-color="#d4705f"/><stop offset="0.3333" stop-color="#eaa190"/><stop offset="0.4167" stop-color="#f8d5cb"/>
<stop offset="0.5" stop-color="#f7f7f7"/><stop offset="0.5833" stop-color="#d4e5f0"/><stop offset="0.6667" stop-color="#97c1dc"/>
<stop offset="0.75" stop-color="#5d9ac7"/><stop offset="0.8333" stop-color="#3b76ac"/><stop offset="0.9167" stop-color="#28558c"/>
<stop offset="1" stop-color="#1b3567"/></linearGradient></defs>
<rect x="641" y="335.1" width="9.8" height="45.6" fill="url(#rdbu)"/>
<text x="655.2" y="338.15" font-size="6.8" fill="#1a1a1a">0.6</text>
<line x1="641" y1="343.13" x2="643" y2="343.13" stroke="#fff" stroke-width="0.6"/>
<line x1="649" y1="343.13" x2="651" y2="343.13" stroke="#fff" stroke-width="0.6"/>
<text x="655.2" y="345.58" font-size="6.8" fill="#1a1a1a">0.4</text>
<line x1="641" y1="350.56" x2="643" y2="350.56" stroke="#fff" stroke-width="0.6"/>
<line x1="649" y1="350.56" x2="651" y2="350.56" stroke="#fff" stroke-width="0.6"/>
<text x="655.2" y="353.01" font-size="6.8" fill="#1a1a1a">0.2</text>
<line x1="641" y1="357.99" x2="643" y2="357.99" stroke="#fff" stroke-width="0.6"/>
<line x1="649" y1="357.99" x2="651" y2="357.99" stroke="#fff" stroke-width="0.6"/>
<text x="655.2" y="360.44" font-size="6.8" fill="#1a1a1a">0.0</text>
<line x1="641" y1="365.42" x2="643" y2="365.42" stroke="#fff" stroke-width="0.6"/>
<line x1="649" y1="365.42" x2="651" y2="365.42" stroke="#fff" stroke-width="0.6"/>
<text x="655.2" y="367.87" font-size="6.8" fill="#1a1a1a">−0.2</text>
<line x1="641" y1="372.85" x2="643" y2="372.85" stroke="#fff" stroke-width="0.6"/>
<line x1="649" y1="372.85" x2="651" y2="372.85" stroke="#fff" stroke-width="0.6"/>
<text x="655.2" y="375.3" font-size="6.8" fill="#1a1a1a">−0.4</text>
<text x="655.2" y="382.73" font-size="6.8" fill="#1a1a1a">−0.6</text>
<text x="260" y="438" font-size="11.5" fill="#000" font-weight="bold">e</text>
<line x1="281.5" y1="446.7" x2="281.5" y2="507.7" stroke="#333333" stroke-width="1.1"/>
<line x1="281.5" y1="510.6" x2="281.5" y2="557.3" stroke="#333333" stroke-width="1.1"/>
<line x1="281.5" y1="557.3" x2="625" y2="557.3" stroke="#333333" stroke-width="1.3"/>
<line x1="278.9" y1="451.65" x2="281.5" y2="451.65" stroke="#333333" stroke-width="0.8"/>
<text x="275.4" y="451.65" font-size="6.9" fill="#555555" text-anchor="middle" transform="rotate(-90 275.4 451.65)" dominant-baseline="central">70</text>
<line x1="278.9" y1="462.2" x2="281.5" y2="462.2" stroke="#333333" stroke-width="0.8"/>
<text x="275.4" y="462.2" font-size="6.9" fill="#555555" text-anchor="middle" transform="rotate(-90 275.4 462.2)" dominant-baseline="central">65</text>
<line x1="278.9" y1="472.75" x2="281.5" y2="472.75" stroke="#333333" stroke-width="0.8"/>
<text x="275.4" y="472.75" font-size="6.9" fill="#555555" text-anchor="middle" transform="rotate(-90 275.4 472.75)" dominant-baseline="central">60</text>
<line x1="278.9" y1="483.3" x2="281.5" y2="483.3" stroke="#333333" stroke-width="0.8"/>
<text x="275.4" y="483.3" font-size="6.9" fill="#555555" text-anchor="middle" transform="rotate(-90 275.4 483.3)" dominant-baseline="central">55</text>
<line x1="278.9" y1="493.85" x2="281.5" y2="493.85" stroke="#333333" stroke-width="0.8"/>
<text x="275.4" y="493.85" font-size="6.9" fill="#555555" text-anchor="middle" transform="rotate(-90 275.4 493.85)" dominant-baseline="central">50</text>
<line x1="278.9" y1="504.4" x2="281.5" y2="504.4" stroke="#333333" stroke-width="0.8"/>
<text x="275.4" y="504.4" font-size="6.9" fill="#555555" text-anchor="middle" transform="rotate(-90 275.4 504.4)" dominant-baseline="central">45</text>
<line x1="278.9" y1="513.7" x2="281.5" y2="513.7" stroke="#333333" stroke-width="0.8"/>
<text x="275.4" y="513.7" font-size="6.9" fill="#555555" text-anchor="middle" transform="rotate(-90 275.4 513.7)" dominant-baseline="central">20</text>
<line x1="278.9" y1="524.15" x2="281.5" y2="524.15" stroke="#333333" stroke-width="0.8"/>
<text x="275.4" y="524.15" font-size="6.9" fill="#555555" text-anchor="middle" transform="rotate(-90 275.4 524.15)" dominant-baseline="central">15</text>
<line x1="278.9" y1="534.6" x2="281.5" y2="534.6" stroke="#333333" stroke-width="0.8"/>
<text x="275.4" y="534.6" font-size="6.9" fill="#555555" text-anchor="middle" transform="rotate(-90 275.4 534.6)" dominant-baseline="central">10</text>
<line x1="278.9" y1="545.05" x2="281.5" y2="545.05" stroke="#333333" stroke-width="0.8"/>
<text x="275.4" y="545.05" font-size="6.9" fill="#555555" text-anchor="middle" transform="rotate(-90 275.4 545.05)" dominant-baseline="central">5</text>
<line x1="278.9" y1="555.5" x2="281.5" y2="555.5" stroke="#333333" stroke-width="0.8"/>
<text x="275.4" y="555.5" font-size="6.9" fill="#555555" text-anchor="middle" transform="rotate(-90 275.4 555.5)" dominant-baseline="central">0</text>
<line x1="279.2" y1="506.8" x2="283.8" y2="508.6" stroke="#333333" stroke-width="0.9"/>
<line x1="279.2" y1="509.7" x2="283.8" y2="511.5" stroke="#333333" stroke-width="0.9"/>
<text x="262.8" y="499" font-size="10" fill="#000" text-anchor="middle" transform="rotate(-90 262.8 499)">Gene number</text>
<rect x="288.6" y="495.96" width="14.4" height="59.54" fill="#c97b89"/>
<rect x="288.6" y="449.12" width="14.4" height="46.84" fill="#4f7797"/>
<line x1="288.6" y1="510.2" x2="303" y2="510.2" stroke="#fff" stroke-width="1"/>
<rect x="312.9" y="532.51" width="14.4" height="22.99" fill="#c97b89"/>
<rect x="312.9" y="522.06" width="14.4" height="10.45" fill="#4f7797"/>
<rect x="337.2" y="545.05" width="14.4" height="10.45" fill="#c97b89"/>
<rect x="361.5" y="553.41" width="14.4" height="2.09" fill="#4f7797"/>
<rect x="385.8" y="553.41" width="14.4" height="2.09" fill="#c97b89"/>
<rect x="385.8" y="551.32" width="14.4" height="2.09" fill="#4f7797"/>
<rect x="410.1" y="553.41" width="14.4" height="2.09" fill="#c97b89"/>
<rect x="434.4" y="553.41" width="14.4" height="2.09" fill="#c97b89"/>
<rect x="458.7" y="553.41" width="14.4" height="2.09" fill="#c97b89"/>
<rect x="483" y="553.41" width="14.4" height="2.09" fill="#c97b89"/>
<rect x="507.3" y="553.41" width="14.4" height="2.09" fill="#c97b89"/>
<rect x="507.3" y="551.32" width="14.4" height="2.09" fill="#4f7797"/>
<rect x="531.6" y="553.41" width="14.4" height="2.09" fill="#c97b89"/>
<rect x="555.9" y="553.41" width="14.4" height="2.09" fill="#c97b89"/>
<rect x="580.2" y="553.41" width="14.4" height="2.09" fill="#c97b89"/>
<rect x="580.2" y="551.32" width="14.4" height="2.09" fill="#4f7797"/>
<rect x="604.5" y="553.41" width="14.4" height="2.09" fill="#c97b89"/>
<path d="M356.6 556.6V548.5H623.0V556.6" fill="none" stroke="#8b5a5a" stroke-width="0.8"/>
<rect x="387.4" y="445.4" width="195.6" height="67.8" fill="none" stroke="#8b5a5a" stroke-width="0.8"/>
<line x1="387.5" y1="513.2" x2="356.6" y2="548.5" stroke="#8b5a5a" stroke-width="0.8" stroke-dasharray="10.7 10.7" stroke-dashoffset="3.3"/>
<line x1="583.1" y1="513.2" x2="623" y2="548.5" stroke="#8b5a5a" stroke-width="0.8" stroke-dasharray="12.85 12.85" stroke-dashoffset="5.5"/>
<line x1="385" y1="503" x2="387.4" y2="503" stroke="#8b5a5a" stroke-width="0.8"/>
<text x="380.8" y="503" font-size="7.4" fill="#9a6e6e" text-anchor="middle" transform="rotate(-90 380.8 503)" dominant-baseline="central">0</text>
<line x1="385" y1="478.3" x2="387.4" y2="478.3" stroke="#8b5a5a" stroke-width="0.8"/>
<text x="380.8" y="478.3" font-size="7.4" fill="#9a6e6e" text-anchor="middle" transform="rotate(-90 380.8 478.3)" dominant-baseline="central">1</text>
<line x1="385" y1="453.6" x2="387.4" y2="453.6" stroke="#8b5a5a" stroke-width="0.8"/>
<text x="380.8" y="453.6" font-size="7.4" fill="#9a6e6e" text-anchor="middle" transform="rotate(-90 380.8 453.6)" dominant-baseline="central">2</text>
<rect x="396" y="478.3" width="10" height="24.7" fill="#4f7797"/>
<rect x="412.75" y="478.3" width="10" height="24.7" fill="#c97b89"/>
<rect x="412.75" y="453.6" width="10" height="24.7" fill="#4f7797"/>
<rect x="429.5" y="478.3" width="10" height="24.7" fill="#c97b89"/>
<rect x="446.25" y="478.3" width="10" height="24.7" fill="#c97b89"/>
<rect x="463" y="478.3" width="10" height="24.7" fill="#c97b89"/>
<rect x="479.75" y="478.3" width="10" height="24.7" fill="#c97b89"/>
<rect x="496.5" y="478.3" width="10" height="24.7" fill="#c97b89"/>
<rect x="496.5" y="453.6" width="10" height="24.7" fill="#4f7797"/>
<rect x="513.25" y="478.3" width="10" height="24.7" fill="#c97b89"/>
<rect x="530" y="478.3" width="10" height="24.7" fill="#c97b89"/>
<rect x="546.75" y="478.3" width="10" height="24.7" fill="#c97b89"/>
<rect x="546.75" y="453.6" width="10" height="24.7" fill="#4f7797"/>
<rect x="563.5" y="478.3" width="10" height="24.7" fill="#c97b89"/>
<line x1="295.8" y1="557.3" x2="295.8" y2="559.3" stroke="#333333" stroke-width="0.8"/>
<text x="294.5" y="561.4" font-size="7.35" fill="#4d4d4d" text-anchor="end" transform="rotate(-90 294.5 561.4)" dominant-baseline="central">Unknow</text>
<line x1="320.1" y1="557.3" x2="320.1" y2="559.3" stroke="#333333" stroke-width="0.8"/>
<text x="318.8" y="561.4" font-size="7.35" fill="#4d4d4d" text-anchor="end" transform="rotate(-90 318.8 561.4)" dominant-baseline="central">Phage structure</text>
<line x1="344.4" y1="557.3" x2="344.4" y2="559.3" stroke="#333333" stroke-width="0.8"/>
<text x="343.1" y="561.4" font-size="7.35" fill="#4d4d4d" text-anchor="end" transform="rotate(-90 343.1 561.4)" dominant-baseline="central">Infection</text>
<line x1="368.7" y1="557.3" x2="368.7" y2="559.3" stroke="#333333" stroke-width="0.8"/>
<text x="367.4" y="561.4" font-size="7.35" fill="#4d4d4d" text-anchor="end" transform="rotate(-90 367.4 561.4)" dominant-baseline="central">DNA adenine methylase</text>
<line x1="393" y1="557.3" x2="393" y2="559.3" stroke="#333333" stroke-width="0.8"/>
<text x="391.7" y="561.4" font-size="7.35" fill="#4d4d4d" text-anchor="end" transform="rotate(-90 391.7 561.4)" dominant-baseline="central">DNA primase</text>
<line x1="417.3" y1="557.3" x2="417.3" y2="559.3" stroke="#333333" stroke-width="0.8"/>
<text x="416" y="561.4" font-size="7.35" fill="#4d4d4d" text-anchor="end" transform="rotate(-90 416 561.4)" dominant-baseline="central">Endonuclease</text>
<line x1="441.6" y1="557.3" x2="441.6" y2="559.3" stroke="#333333" stroke-width="0.8"/>
<text x="440.3" y="561.4" font-size="7.35" fill="#4d4d4d" text-anchor="end" transform="rotate(-90 440.3 561.4)" dominant-baseline="central">flavin−dependent thymidylate synthase</text>
<line x1="465.9" y1="557.3" x2="465.9" y2="559.3" stroke="#333333" stroke-width="0.8"/>
<text x="464.6" y="561.4" font-size="7.35" fill="#4d4d4d" text-anchor="end" transform="rotate(-90 464.6 561.4)" dominant-baseline="central">Inorganic Pyrophosphatase</text>
<line x1="490.2" y1="557.3" x2="490.2" y2="559.3" stroke="#333333" stroke-width="0.8"/>
<text x="488.9" y="561.4" font-size="7.35" fill="#4d4d4d" text-anchor="end" transform="rotate(-90 488.9 561.4)" dominant-baseline="central">nicotinamide phosphoribosyltransferase</text>
<line x1="514.5" y1="557.3" x2="514.5" y2="559.3" stroke="#333333" stroke-width="0.8"/>
<text x="513.2" y="561.4" font-size="7.35" fill="#4d4d4d" text-anchor="end" transform="rotate(-90 513.2 561.4)" dominant-baseline="central">O−antigen biosynthesis protein</text>
<line x1="538.8" y1="557.3" x2="538.8" y2="559.3" stroke="#333333" stroke-width="0.8"/>
<text x="537.5" y="561.4" font-size="7.35" fill="#4d4d4d" text-anchor="end" transform="rotate(-90 537.5 561.4)" dominant-baseline="central">Ribonucleoside−diphosphate reductase</text>
<line x1="563.1" y1="557.3" x2="563.1" y2="559.3" stroke="#333333" stroke-width="0.8"/>
<text x="561.8" y="561.4" font-size="7.35" fill="#4d4d4d" text-anchor="end" transform="rotate(-90 561.8 561.4)" dominant-baseline="central">Ribose−phosphate pyrophosphokinase</text>
<line x1="587.4" y1="557.3" x2="587.4" y2="559.3" stroke="#333333" stroke-width="0.8"/>
<text x="586.1" y="561.4" font-size="7.35" fill="#4d4d4d" text-anchor="end" transform="rotate(-90 586.1 561.4)" dominant-baseline="central">Transposase</text>
<line x1="611.7" y1="557.3" x2="611.7" y2="559.3" stroke="#333333" stroke-width="0.8"/>
<text x="610.4" y="561.4" font-size="7.35" fill="#4d4d4d" text-anchor="end" transform="rotate(-90 610.4 561.4)" dominant-baseline="central">Type I restriction enzyme M protein</text>
<text x="640.2" y="471.99" font-size="8.3" fill="#1a1a1a">Clade</text>
<rect x="640.3" y="486.9" width="7.4" height="7.3" fill="#4f7797"/>
<rect x="640.3" y="506.9" width="7.4" height="7.3" fill="#c97b89"/>
<text x="652.7" y="492.84" font-size="6.5" fill="#333">CPR</text>
<text x="652.7" y="512.84" font-size="6.5" fill="#333">DPANN</text>
</svg></body></html>
